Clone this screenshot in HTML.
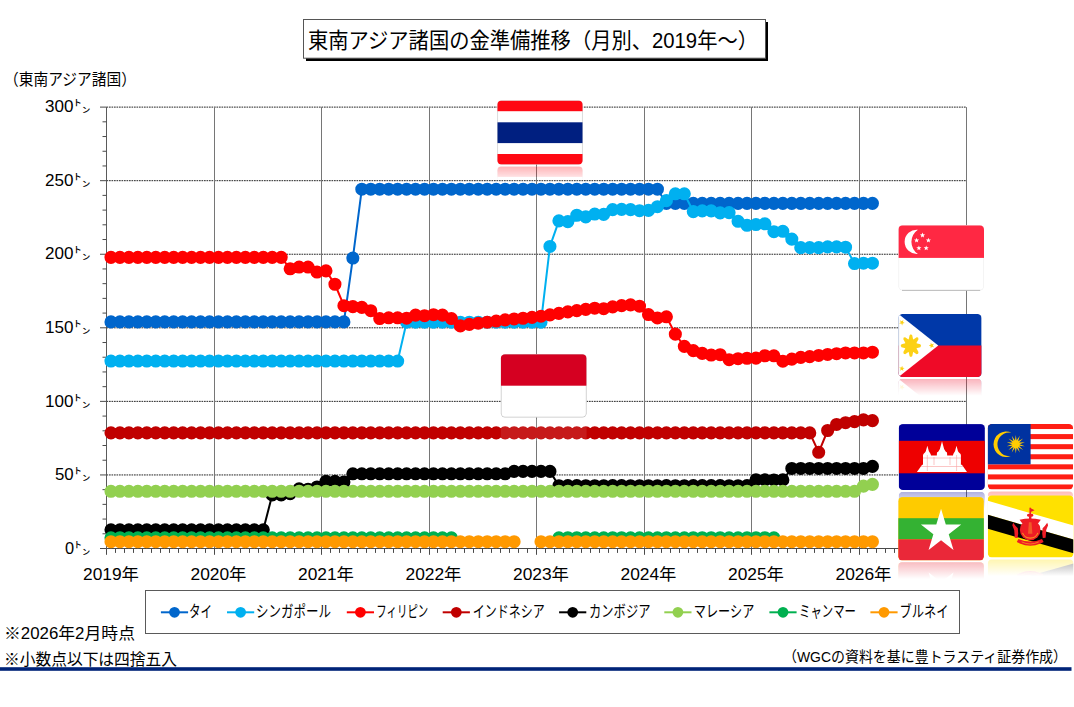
<!DOCTYPE html>
<html lang="ja"><head><meta charset="utf-8"><title>東南アジア諸国の金準備推移（月別、2019年～）</title>
<style>
html,body{margin:0;padding:0;background:#fff;}
body{width:1074px;height:707px;overflow:hidden;position:relative;font-family:"Liberation Sans","Noto Sans CJK JP",sans-serif;}
svg{display:block;position:absolute;left:0;top:0;}
svg text{font-family:"Liberation Sans","Noto Sans CJK JP",sans-serif;fill:#000;}
</style></head><body>
<svg width="1074" height="707" viewBox="0 0 1074 707" role="img" aria-label="東南アジア諸国の金準備推移（月別、2019年～）">
<rect width="1074" height="707" fill="#fff"/>
<defs>
<linearGradient id="rfade" x1="0" y1="0" x2="0" y2="1"><stop offset="0" stop-color="#fff" stop-opacity="0.31"/><stop offset="1" stop-color="#fff" stop-opacity="0"/></linearGradient>
<clipPath id="c_th"><rect width="85.4" height="64" rx="4.2" ry="4.2"/></clipPath>
<g id="f_th" clip-path="url(#c_th)"><rect width="85.4" height="64" rx="4.2" ry="4.2" fill="#fff" stroke="#cfcfcf" stroke-width="1.5"/><rect x="0" y="0" width="85.4" height="10.6" fill="#FF0813"/><rect x="0" y="53.4" width="85.4" height="10.6" fill="#FF0813"/><rect x="0" y="21.7" width="85.4" height="20.8" fill="#001F80"/></g>
<mask id="m_th" maskUnits="userSpaceOnUse" x="496.3" y="166.3" width="87.4" height="17"><rect x="496.3" y="166.3" width="87.4" height="17" fill="url(#rfade)"/></mask>
<clipPath id="c_sg"><rect width="85.6" height="65.1" rx="4.2" ry="4.2"/></clipPath>
<g id="f_sg" clip-path="url(#c_sg)"><rect width="85.6" height="65.1" rx="4.2" ry="4.2" fill="#fff" stroke="#f1f1f1" stroke-width="1.5"/><rect width="85.6" height="32.6" fill="#FF2843"/><path fill="#fff" d="M19.5 4.42A12.18 12.18 0 1 0 19.5 28.68A14.57 14.57 0 0 1 19.5 4.42z"/><g fill="#fff"><polygon points="24.1,7.3 24.78,9.07 26.67,9.17 25.19,10.36 25.69,12.18 24.1,11.15 22.51,12.18 23.01,10.36 21.53,9.17 23.42,9.07"/><polygon points="18.2,12.4 18.88,14.17 20.77,14.27 19.29,15.46 19.79,17.28 18.2,16.25 16.61,17.28 17.11,15.46 15.63,14.27 17.52,14.17"/><polygon points="30,12.4 30.68,14.17 32.57,14.27 31.09,15.46 31.59,17.28 30,16.25 28.41,17.28 28.91,15.46 27.43,14.27 29.32,14.17"/><polygon points="20.5,20.1 21.18,21.87 23.07,21.97 21.59,23.16 22.09,24.98 20.5,23.95 18.91,24.98 19.41,23.16 17.93,21.97 19.82,21.87"/><polygon points="27.8,20.1 28.48,21.87 30.37,21.97 28.89,23.16 29.39,24.98 27.8,23.95 26.21,24.98 26.71,23.16 25.23,21.97 27.12,21.87"/></g></g>
<mask id="m_sg" maskUnits="userSpaceOnUse" x="897.4" y="292.1" width="87.6" height="17"><rect x="897.4" y="292.1" width="87.6" height="17" fill="url(#rfade)"/></mask>
<clipPath id="c_ph"><rect width="83.2" height="63.2" rx="4.2" ry="4.2"/></clipPath>
<g id="f_ph" clip-path="url(#c_ph)"><rect width="83.2" height="63.2" fill="#0038A8"/><rect y="31.6" width="83.2" height="31.6" fill="#EF0A27"/><polygon points="0,0 39.85,31.6 0,63.2" fill="#fff"/><line x1="0.3" x2="0.3" y1="5" y2="58.2" stroke="#d4d4d4" stroke-width="0.7"/><g fill="#FCD116"><g transform="translate(0 31.8) scale(1 1.12) translate(0 -31.8)"><circle cx="12.5" cy="31.8" r="6.0"/><polygon points="17,34.3 21.9,33.1 22.7,31.8 21.9,30.5 17,29.3"/><polygon points="13.91,36.75 18.23,39.37 19.71,39.01 20.07,37.53 17.45,33.21"/><polygon points="10,36.3 11.2,41.2 12.5,42 13.8,41.2 15,36.3"/><polygon points="7.55,33.21 4.93,37.53 5.29,39.01 6.77,39.37 11.09,36.75"/><polygon points="8,29.3 3.1,30.5 2.3,31.8 3.1,33.1 8,34.3"/><polygon points="11.09,26.85 6.77,24.23 5.29,24.59 4.93,26.07 7.55,30.39"/><polygon points="15,27.3 13.8,22.4 12.5,21.6 11.2,22.4 10,27.3"/><polygon points="17.45,30.39 20.07,26.07 19.71,24.59 18.23,24.23 13.91,26.85"/></g><polygon points="4.95,6.09 4.6,8.11 6.34,9.2 4.3,9.49 3.8,11.48 2.9,9.64 0.85,9.78 2.33,8.35 1.56,6.44 3.37,7.41"/><polygon points="4.95,57.21 3.37,55.89 1.56,56.86 2.33,54.95 0.85,53.52 2.9,53.66 3.8,51.82 4.3,53.81 6.34,54.1 4.6,55.19"/><polygon points="30.3,31.6 32.23,30.89 32.3,28.84 33.57,30.46 35.55,29.9 34.4,31.6 35.55,33.3 33.57,32.74 32.3,34.36 32.23,32.31"/></g></g>
<mask id="m_ph" maskUnits="userSpaceOnUse" x="897.4" y="378.8" width="85.2" height="17"><rect x="897.4" y="378.8" width="85.2" height="17" fill="url(#rfade)"/></mask>
<clipPath id="c_id"><rect width="85.8" height="63.3" rx="4.2" ry="4.2"/></clipPath>
<g id="f_id" clip-path="url(#c_id)"><rect width="85.8" height="63.3" rx="4.2" ry="4.2" fill="#fff" stroke="#c4c4c4" stroke-width="1.5"/><rect width="85.8" height="31.5" fill="#D50021"/></g>
<mask id="m_id" maskUnits="userSpaceOnUse" x="499.8" y="419.2" width="87.8" height="17"><rect x="499.8" y="419.2" width="87.8" height="17" fill="url(#rfade)"/></mask>
<clipPath id="c_kh"><rect width="86.2" height="66" rx="4.2" ry="4.2"/></clipPath>
<g id="f_kh" clip-path="url(#c_kh)"><rect width="86.2" height="66" fill="#000099"/><rect y="16.7" width="86.2" height="32.5" fill="#EE0000"/><polygon fill="#fff" points="18.2,47.9 23.4,40.6 24.3,40.6 24.3,31.5 24.7,29.9 26.3,28.5 27.1,27.1 28.65,21.7 30.2,27.1 31,28.5 31.9,29.9 32.3,31.5 38.1,31.5 38.3,28.3 39.7,27.3 41.2,24.9 43.3,17.1 45.4,24.9 46.9,27.3 48.3,28.3 48.5,31.5 54.3,31.5 54.6,29.9 55.5,28.5 56.3,27.1 57.8,21.7 59.3,27.1 60.2,28.5 61.9,29.9 62.2,31.5 62.2,40.6 63.2,40.6 68.3,47.9"/><path stroke="#F8A0A0" stroke-width="0.6" fill="none" d="M24.3 33.9h38 M22.3 42.4h42 M35.3 32.9v8 M51.3 32.9v8 M28.6 30.9v16 M57.9 30.9v16"/></g>
<mask id="m_kh" maskUnits="userSpaceOnUse" x="897.7" y="491.8" width="88.2" height="17"><rect x="897.7" y="491.8" width="88.2" height="17" fill="url(#rfade)"/></mask>
<clipPath id="c_my"><rect width="85.4" height="65.5" rx="4.2" ry="4.2"/></clipPath>
<g id="f_my" clip-path="url(#c_my)"><rect width="85.4" height="65.5" fill="#FF1E14"/><rect y="5.04" width="85.4" height="5.04" fill="#fff"/><rect y="15.12" width="85.4" height="5.04" fill="#fff"/><rect y="25.19" width="85.4" height="5.04" fill="#fff"/><rect y="35.27" width="85.4" height="5.04" fill="#fff"/><rect y="45.35" width="85.4" height="5.04" fill="#fff"/><rect y="55.42" width="85.4" height="5.04" fill="#fff"/><rect width="42.9" height="40.31" fill="#0032A0"/><path fill="#FFCC00" d="M23.8 8.6A12.8 12.8 0 1 0 23.8 32A11.9 11.9 0 1 1 23.8 8.6z"/><polygon fill="#FFCC00" points="28.1,10.9 28.92,16.59 32.14,11.82 30.41,17.31 35.37,14.4 31.43,18.59 37.17,18.13 31.8,20.2 37.17,22.27 31.43,21.81 35.37,26 30.41,23.09 32.14,28.58 28.92,23.81 28.1,29.5 27.28,23.81 24.06,28.58 25.79,23.09 20.83,26 24.77,21.81 19.03,22.27 24.4,20.2 19.03,18.13 24.77,18.59 20.83,14.4 25.79,17.31 24.06,11.82 27.28,16.59"/></g>
<mask id="m_my" maskUnits="userSpaceOnUse" x="986.7" y="491.2" width="87.4" height="17"><rect x="986.7" y="491.2" width="87.4" height="17" fill="url(#rfade)"/></mask>
<clipPath id="c_mm"><rect width="85.7" height="63.3" rx="4.2" ry="4.2"/></clipPath>
<g id="f_mm" clip-path="url(#c_mm)"><rect width="85.7" height="63.3" fill="#FECB00"/><rect y="21.1" width="85.7" height="21.1" fill="#34B233"/><rect y="42.2" width="85.7" height="21.1" fill="#EA2839"/><polygon fill="#fff" transform="translate(42.85 34.4) scale(0.93 1)" points="0,-22.8 5.11,-7.04 21.68,-7.05 8.27,2.69 13.4,18.45 0,8.7 -13.4,18.45 -8.27,2.69 -21.68,-7.05 -5.11,-7.04"/></g>
<mask id="m_mm" maskUnits="userSpaceOnUse" x="897.2" y="562.1" width="87.7" height="17"><rect x="897.2" y="562.1" width="87.7" height="17" fill="url(#rfade)"/></mask>
<clipPath id="c_bn"><rect width="85.7" height="62.15" rx="4.2" ry="4.2"/></clipPath>
<g id="f_bn" clip-path="url(#c_bn)"><rect width="85.7" height="62.15" fill="#FFE100"/><polygon fill="#fff" points="0,5.45 85.7,30.05 85.7,44.05 0,19.45"/><polygon fill="#000" points="0,19.45 85.7,44.05 85.7,57.95 0,33.45"/><g fill="#EE1C25"><rect x="41.65" y="12.35" width="1.5" height="8"/><path d="M43 12.95l3.8 2.0l-3.8 1.8z"/><ellipse cx="42.4" cy="19.95" rx="3.2" ry="1.7"/><rect x="41.2" y="20.95" width="2.4" height="3"/><path d="M31.8 24.35q10.6 -2.6 21.2 0l-2.4 3.2h-16.4z"/><circle cx="42.4" cy="34.55" r="10.3"/><polygon points="29.8,42.55 27,42.35 26.4,34.65 24.5,29.95 25.4,27.35 27.8,30.55 30,32.95 30.4,38.15"/><polygon points="55,42.55 57.8,42.35 58.4,34.65 60.3,29.95 59.4,27.35 57,30.55 54.8,32.95 54.4,38.15"/><path d="M30.6 43.75Q42.4 48.75 54.2 43.75L55.8 46.75L52.8 48.15Q42.4 52.75 32 48.15L29 46.75z"/></g><g fill="none" stroke="#F7931E" stroke-width="1.1"><path d="M34.7 37.55a8.3 8.3 0 0 0 15.4 0"/></g><path fill="#F15A29" d="M41.1 26.95h2.6l0.9 11.4h-4.4z"/><path fill="none" stroke="#F7931E" stroke-width="0.8" d="M33.8 46.55Q42.4 50.75 51 46.55"/></g>
<mask id="m_bn" maskUnits="userSpaceOnUse" x="986.8" y="559.2" width="87.7" height="17"><rect x="986.8" y="559.2" width="87.7" height="17" fill="url(#rfade)"/></mask>
</defs>
<g id="title">
<rect x="306" y="22" width="462" height="39" fill="#000"/>
<rect x="303.5" y="19.5" width="462" height="38.7" fill="#fff" stroke="#555" stroke-width="1"/>
<text x="308" y="48.3" font-size="21.3" textLength="450" lengthAdjust="spacingAndGlyphs">東南アジア諸国の金準備推移（月別、2019年～）</text>
</g>
<text x="4" y="85" font-size="16" textLength="132" lengthAdjust="spacingAndGlyphs">（東南アジア諸国）</text>
<g id="grid" fill="none">
<line x1="106.5" x2="966.5" y1="474.94" y2="474.94" stroke="#262626" stroke-width="1" stroke-dasharray="1.7 0.8"/>
<line x1="106.5" x2="966.5" y1="401.37" y2="401.37" stroke="#262626" stroke-width="1" stroke-dasharray="1.7 0.8"/>
<line x1="106.5" x2="966.5" y1="327.8" y2="327.8" stroke="#262626" stroke-width="1" stroke-dasharray="1.7 0.8"/>
<line x1="106.5" x2="966.5" y1="254.24" y2="254.24" stroke="#262626" stroke-width="1" stroke-dasharray="1.7 0.8"/>
<line x1="106.5" x2="966.5" y1="180.68" y2="180.68" stroke="#262626" stroke-width="1" stroke-dasharray="1.7 0.8"/>
<line x1="106.5" x2="966.5" y1="107.11" y2="107.11" stroke="#262626" stroke-width="1" stroke-dasharray="1.7 0.8"/>
<line x1="214.5" x2="214.5" y1="107.11" y2="548.5" stroke="#767676" stroke-width="1"/>
<line x1="321.5" x2="321.5" y1="107.11" y2="548.5" stroke="#767676" stroke-width="1"/>
<line x1="429.5" x2="429.5" y1="107.11" y2="548.5" stroke="#767676" stroke-width="1"/>
<line x1="536.5" x2="536.5" y1="107.11" y2="548.5" stroke="#767676" stroke-width="1"/>
<line x1="644.5" x2="644.5" y1="107.11" y2="548.5" stroke="#767676" stroke-width="1"/>
<line x1="751.5" x2="751.5" y1="107.11" y2="548.5" stroke="#767676" stroke-width="1"/>
<line x1="859.5" x2="859.5" y1="107.11" y2="548.5" stroke="#767676" stroke-width="1"/>
<line x1="966.5" x2="966.5" y1="107.11" y2="548.5" stroke="#767676" stroke-width="1"/>
<line x1="106.5" x2="106.5" y1="107.11" y2="548.5" stroke="#5a5a5a" stroke-width="1"/>
<line x1="106.5" x2="966.5" y1="548.5" y2="548.5" stroke="#4a4a4a" stroke-width="1"/>
<path d="M100 548.5h6.5 M102.5 533.79h4 M102.5 519.07h4 M102.5 504.36h4 M102.5 489.65h4 M100 474.94h6.5 M102.5 460.22h4 M102.5 445.51h4 M102.5 430.8h4 M102.5 416.08h4 M100 401.37h6.5 M102.5 386.66h4 M102.5 371.94h4 M102.5 357.23h4 M102.5 342.52h4 M100 327.8h6.5 M102.5 313.09h4 M102.5 298.38h4 M102.5 283.67h4 M102.5 268.95h4 M100 254.24h6.5 M102.5 239.53h4 M102.5 224.81h4 M102.5 210.1h4 M102.5 195.39h4 M100 180.68h6.5 M102.5 165.96h4 M102.5 151.25h4 M102.5 136.54h4 M102.5 121.82h4 M100 107.11h6.5" stroke="#4a4a4a" stroke-width="1"/>
<path d="M106.5 548.5v6.3 M115.5 548.5v4.4 M124.5 548.5v4.4 M133.5 548.5v4.4 M142.5 548.5v4.4 M151.5 548.5v4.4 M160.5 548.5v4.4 M169.5 548.5v4.4 M178.5 548.5v4.4 M187.5 548.5v4.4 M196.5 548.5v4.4 M205.5 548.5v4.4 M214.5 548.5v6.3 M222.5 548.5v4.4 M231.5 548.5v4.4 M240.5 548.5v4.4 M249.5 548.5v4.4 M258.5 548.5v4.4 M267.5 548.5v4.4 M276.5 548.5v4.4 M285.5 548.5v4.4 M294.5 548.5v4.4 M303.5 548.5v4.4 M312.5 548.5v4.4 M321.5 548.5v6.3 M330.5 548.5v4.4 M339.5 548.5v4.4 M348.5 548.5v4.4 M357.5 548.5v4.4 M366.5 548.5v4.4 M375.5 548.5v4.4 M384.5 548.5v4.4 M393.5 548.5v4.4 M402.5 548.5v4.4 M411.5 548.5v4.4 M420.5 548.5v4.4 M429.5 548.5v6.3 M437.5 548.5v4.4 M446.5 548.5v4.4 M455.5 548.5v4.4 M464.5 548.5v4.4 M473.5 548.5v4.4 M482.5 548.5v4.4 M491.5 548.5v4.4 M500.5 548.5v4.4 M509.5 548.5v4.4 M518.5 548.5v4.4 M527.5 548.5v4.4 M536.5 548.5v6.3 M545.5 548.5v4.4 M554.5 548.5v4.4 M563.5 548.5v4.4 M572.5 548.5v4.4 M581.5 548.5v4.4 M590.5 548.5v4.4 M599.5 548.5v4.4 M608.5 548.5v4.4 M617.5 548.5v4.4 M626.5 548.5v4.4 M635.5 548.5v4.4 M644.5 548.5v6.3 M652.5 548.5v4.4 M661.5 548.5v4.4 M670.5 548.5v4.4 M679.5 548.5v4.4 M688.5 548.5v4.4 M697.5 548.5v4.4 M706.5 548.5v4.4 M715.5 548.5v4.4 M724.5 548.5v4.4 M733.5 548.5v4.4 M742.5 548.5v4.4 M751.5 548.5v6.3 M760.5 548.5v4.4 M769.5 548.5v4.4 M778.5 548.5v4.4 M787.5 548.5v4.4 M796.5 548.5v4.4 M805.5 548.5v4.4 M814.5 548.5v4.4 M823.5 548.5v4.4 M832.5 548.5v4.4 M841.5 548.5v4.4 M850.5 548.5v4.4 M859.5 548.5v6.3 M867.5 548.5v4.4 M876.5 548.5v4.4 M885.5 548.5v4.4 M894.5 548.5v4.4 M903.5 548.5v4.4 M912.5 548.5v4.4 M921.5 548.5v4.4 M930.5 548.5v4.4 M939.5 548.5v4.4 M948.5 548.5v4.4 M957.5 548.5v4.4 M966.5 548.5v6.3" stroke="#4a4a4a" stroke-width="1"/>
</g>
<g id="series">
<g aria-label="タイ">
<path d="M110.98 321.92 L119.94 321.92 L128.9 321.92 L137.85 321.92 L146.81 321.92 L155.77 321.92 L164.73 321.92 L173.69 321.92 L182.65 321.92 L191.6 321.92 L200.56 321.92 L209.52 321.92 L218.48 321.92 L227.44 321.92 L236.4 321.92 L245.35 321.92 L254.31 321.92 L263.27 321.92 L272.23 321.92 L281.19 321.92 L290.15 321.92 L299.1 321.92 L308.06 321.92 L317.02 321.92 L325.98 321.92 L334.94 321.92 L343.9 321.92 L352.85 258.07 L361.81 189.21 L370.77 189.21 L379.73 189.21 L388.69 189.21 L397.65 189.21 L406.6 189.21 L415.56 189.21 L424.52 189.21 L433.48 189.21 L442.44 189.21 L451.4 189.21 L460.35 189.21 L469.31 189.21 L478.27 189.21 L487.23 189.21 L496.19 189.21 L505.15 189.21 L514.1 189.21 L523.06 189.21 L532.02 189.21 L540.98 189.21 L549.94 189.21 L558.9 189.21 L567.85 189.21 L576.81 189.21 L585.77 189.21 L594.73 189.21 L603.69 189.21 L612.65 189.21 L621.6 189.21 L630.56 189.21 L639.52 189.21 L648.48 189.21 L657.44 189.21 L666.4 203.33 L675.35 203.33 L684.31 203.33 L693.27 203.33 L702.23 203.33 L711.19 203.33 L720.15 203.33 L729.1 203.33 L738.06 203.33 L747.02 203.33 L755.98 203.33 L764.94 203.33 L773.9 203.33 L782.85 203.33 L791.81 203.33 L800.77 203.33 L809.73 203.33 L818.69 203.33 L827.65 203.33 L836.6 203.33 L845.56 203.33 L854.52 203.33 L863.48 203.33 L872.44 203.33" fill="none" stroke="#0066CC" stroke-width="2" stroke-linejoin="round"/>
<path d="M104.43 321.92a6.55 6.55 0 1 0 13.1 0a6.55 6.55 0 1 0 -13.1 0zM113.39 321.92a6.55 6.55 0 1 0 13.1 0a6.55 6.55 0 1 0 -13.1 0zM122.35 321.92a6.55 6.55 0 1 0 13.1 0a6.55 6.55 0 1 0 -13.1 0zM131.3 321.92a6.55 6.55 0 1 0 13.1 0a6.55 6.55 0 1 0 -13.1 0zM140.26 321.92a6.55 6.55 0 1 0 13.1 0a6.55 6.55 0 1 0 -13.1 0zM149.22 321.92a6.55 6.55 0 1 0 13.1 0a6.55 6.55 0 1 0 -13.1 0zM158.18 321.92a6.55 6.55 0 1 0 13.1 0a6.55 6.55 0 1 0 -13.1 0zM167.14 321.92a6.55 6.55 0 1 0 13.1 0a6.55 6.55 0 1 0 -13.1 0zM176.1 321.92a6.55 6.55 0 1 0 13.1 0a6.55 6.55 0 1 0 -13.1 0zM185.05 321.92a6.55 6.55 0 1 0 13.1 0a6.55 6.55 0 1 0 -13.1 0zM194.01 321.92a6.55 6.55 0 1 0 13.1 0a6.55 6.55 0 1 0 -13.1 0zM202.97 321.92a6.55 6.55 0 1 0 13.1 0a6.55 6.55 0 1 0 -13.1 0zM211.93 321.92a6.55 6.55 0 1 0 13.1 0a6.55 6.55 0 1 0 -13.1 0zM220.89 321.92a6.55 6.55 0 1 0 13.1 0a6.55 6.55 0 1 0 -13.1 0zM229.85 321.92a6.55 6.55 0 1 0 13.1 0a6.55 6.55 0 1 0 -13.1 0zM238.8 321.92a6.55 6.55 0 1 0 13.1 0a6.55 6.55 0 1 0 -13.1 0zM247.76 321.92a6.55 6.55 0 1 0 13.1 0a6.55 6.55 0 1 0 -13.1 0zM256.72 321.92a6.55 6.55 0 1 0 13.1 0a6.55 6.55 0 1 0 -13.1 0zM265.68 321.92a6.55 6.55 0 1 0 13.1 0a6.55 6.55 0 1 0 -13.1 0zM274.64 321.92a6.55 6.55 0 1 0 13.1 0a6.55 6.55 0 1 0 -13.1 0zM283.6 321.92a6.55 6.55 0 1 0 13.1 0a6.55 6.55 0 1 0 -13.1 0zM292.55 321.92a6.55 6.55 0 1 0 13.1 0a6.55 6.55 0 1 0 -13.1 0zM301.51 321.92a6.55 6.55 0 1 0 13.1 0a6.55 6.55 0 1 0 -13.1 0zM310.47 321.92a6.55 6.55 0 1 0 13.1 0a6.55 6.55 0 1 0 -13.1 0zM319.43 321.92a6.55 6.55 0 1 0 13.1 0a6.55 6.55 0 1 0 -13.1 0zM328.39 321.92a6.55 6.55 0 1 0 13.1 0a6.55 6.55 0 1 0 -13.1 0zM337.35 321.92a6.55 6.55 0 1 0 13.1 0a6.55 6.55 0 1 0 -13.1 0zM346.3 258.07a6.55 6.55 0 1 0 13.1 0a6.55 6.55 0 1 0 -13.1 0zM355.26 189.21a6.55 6.55 0 1 0 13.1 0a6.55 6.55 0 1 0 -13.1 0zM364.22 189.21a6.55 6.55 0 1 0 13.1 0a6.55 6.55 0 1 0 -13.1 0zM373.18 189.21a6.55 6.55 0 1 0 13.1 0a6.55 6.55 0 1 0 -13.1 0zM382.14 189.21a6.55 6.55 0 1 0 13.1 0a6.55 6.55 0 1 0 -13.1 0zM391.1 189.21a6.55 6.55 0 1 0 13.1 0a6.55 6.55 0 1 0 -13.1 0zM400.05 189.21a6.55 6.55 0 1 0 13.1 0a6.55 6.55 0 1 0 -13.1 0zM409.01 189.21a6.55 6.55 0 1 0 13.1 0a6.55 6.55 0 1 0 -13.1 0zM417.97 189.21a6.55 6.55 0 1 0 13.1 0a6.55 6.55 0 1 0 -13.1 0zM426.93 189.21a6.55 6.55 0 1 0 13.1 0a6.55 6.55 0 1 0 -13.1 0zM435.89 189.21a6.55 6.55 0 1 0 13.1 0a6.55 6.55 0 1 0 -13.1 0zM444.85 189.21a6.55 6.55 0 1 0 13.1 0a6.55 6.55 0 1 0 -13.1 0zM453.8 189.21a6.55 6.55 0 1 0 13.1 0a6.55 6.55 0 1 0 -13.1 0zM462.76 189.21a6.55 6.55 0 1 0 13.1 0a6.55 6.55 0 1 0 -13.1 0zM471.72 189.21a6.55 6.55 0 1 0 13.1 0a6.55 6.55 0 1 0 -13.1 0zM480.68 189.21a6.55 6.55 0 1 0 13.1 0a6.55 6.55 0 1 0 -13.1 0zM489.64 189.21a6.55 6.55 0 1 0 13.1 0a6.55 6.55 0 1 0 -13.1 0zM498.6 189.21a6.55 6.55 0 1 0 13.1 0a6.55 6.55 0 1 0 -13.1 0zM507.55 189.21a6.55 6.55 0 1 0 13.1 0a6.55 6.55 0 1 0 -13.1 0zM516.51 189.21a6.55 6.55 0 1 0 13.1 0a6.55 6.55 0 1 0 -13.1 0zM525.47 189.21a6.55 6.55 0 1 0 13.1 0a6.55 6.55 0 1 0 -13.1 0zM534.43 189.21a6.55 6.55 0 1 0 13.1 0a6.55 6.55 0 1 0 -13.1 0zM543.39 189.21a6.55 6.55 0 1 0 13.1 0a6.55 6.55 0 1 0 -13.1 0zM552.35 189.21a6.55 6.55 0 1 0 13.1 0a6.55 6.55 0 1 0 -13.1 0zM561.3 189.21a6.55 6.55 0 1 0 13.1 0a6.55 6.55 0 1 0 -13.1 0zM570.26 189.21a6.55 6.55 0 1 0 13.1 0a6.55 6.55 0 1 0 -13.1 0zM579.22 189.21a6.55 6.55 0 1 0 13.1 0a6.55 6.55 0 1 0 -13.1 0zM588.18 189.21a6.55 6.55 0 1 0 13.1 0a6.55 6.55 0 1 0 -13.1 0zM597.14 189.21a6.55 6.55 0 1 0 13.1 0a6.55 6.55 0 1 0 -13.1 0zM606.1 189.21a6.55 6.55 0 1 0 13.1 0a6.55 6.55 0 1 0 -13.1 0zM615.05 189.21a6.55 6.55 0 1 0 13.1 0a6.55 6.55 0 1 0 -13.1 0zM624.01 189.21a6.55 6.55 0 1 0 13.1 0a6.55 6.55 0 1 0 -13.1 0zM632.97 189.21a6.55 6.55 0 1 0 13.1 0a6.55 6.55 0 1 0 -13.1 0zM641.93 189.21a6.55 6.55 0 1 0 13.1 0a6.55 6.55 0 1 0 -13.1 0zM650.89 189.21a6.55 6.55 0 1 0 13.1 0a6.55 6.55 0 1 0 -13.1 0zM659.85 203.33a6.55 6.55 0 1 0 13.1 0a6.55 6.55 0 1 0 -13.1 0zM668.8 203.33a6.55 6.55 0 1 0 13.1 0a6.55 6.55 0 1 0 -13.1 0zM677.76 203.33a6.55 6.55 0 1 0 13.1 0a6.55 6.55 0 1 0 -13.1 0zM686.72 203.33a6.55 6.55 0 1 0 13.1 0a6.55 6.55 0 1 0 -13.1 0zM695.68 203.33a6.55 6.55 0 1 0 13.1 0a6.55 6.55 0 1 0 -13.1 0zM704.64 203.33a6.55 6.55 0 1 0 13.1 0a6.55 6.55 0 1 0 -13.1 0zM713.6 203.33a6.55 6.55 0 1 0 13.1 0a6.55 6.55 0 1 0 -13.1 0zM722.55 203.33a6.55 6.55 0 1 0 13.1 0a6.55 6.55 0 1 0 -13.1 0zM731.51 203.33a6.55 6.55 0 1 0 13.1 0a6.55 6.55 0 1 0 -13.1 0zM740.47 203.33a6.55 6.55 0 1 0 13.1 0a6.55 6.55 0 1 0 -13.1 0zM749.43 203.33a6.55 6.55 0 1 0 13.1 0a6.55 6.55 0 1 0 -13.1 0zM758.39 203.33a6.55 6.55 0 1 0 13.1 0a6.55 6.55 0 1 0 -13.1 0zM767.35 203.33a6.55 6.55 0 1 0 13.1 0a6.55 6.55 0 1 0 -13.1 0zM776.3 203.33a6.55 6.55 0 1 0 13.1 0a6.55 6.55 0 1 0 -13.1 0zM785.26 203.33a6.55 6.55 0 1 0 13.1 0a6.55 6.55 0 1 0 -13.1 0zM794.22 203.33a6.55 6.55 0 1 0 13.1 0a6.55 6.55 0 1 0 -13.1 0zM803.18 203.33a6.55 6.55 0 1 0 13.1 0a6.55 6.55 0 1 0 -13.1 0zM812.14 203.33a6.55 6.55 0 1 0 13.1 0a6.55 6.55 0 1 0 -13.1 0zM821.1 203.33a6.55 6.55 0 1 0 13.1 0a6.55 6.55 0 1 0 -13.1 0zM830.05 203.33a6.55 6.55 0 1 0 13.1 0a6.55 6.55 0 1 0 -13.1 0zM839.01 203.33a6.55 6.55 0 1 0 13.1 0a6.55 6.55 0 1 0 -13.1 0zM847.97 203.33a6.55 6.55 0 1 0 13.1 0a6.55 6.55 0 1 0 -13.1 0zM856.93 203.33a6.55 6.55 0 1 0 13.1 0a6.55 6.55 0 1 0 -13.1 0zM865.89 203.33a6.55 6.55 0 1 0 13.1 0a6.55 6.55 0 1 0 -13.1 0z" fill="#0066CC"/>
</g>
<g aria-label="シンガポール">
<path d="M110.98 361.06 L119.94 361.06 L128.9 361.06 L137.85 361.06 L146.81 361.06 L155.77 361.06 L164.73 361.06 L173.69 361.06 L182.65 361.06 L191.6 361.06 L200.56 361.06 L209.52 361.06 L218.48 361.06 L227.44 361.06 L236.4 361.06 L245.35 361.06 L254.31 361.06 L263.27 361.06 L272.23 361.06 L281.19 361.06 L290.15 361.06 L299.1 361.06 L308.06 361.06 L317.02 361.06 L325.98 361.06 L334.94 361.06 L343.9 361.06 L352.85 361.06 L361.81 361.06 L370.77 361.06 L379.73 361.06 L388.69 361.06 L397.65 361.06 L406.6 322.21 L415.56 322.21 L424.52 322.21 L433.48 322.21 L442.44 322.21 L451.4 322.21 L460.35 322.21 L469.31 322.21 L478.27 322.21 L487.23 322.21 L496.19 322.21 L505.15 322.21 L514.1 322.21 L523.06 322.21 L532.02 322.21 L540.98 322.21 L549.94 246.44 L558.9 220.84 L567.85 221.58 L576.81 215.25 L585.77 216.87 L594.73 214.07 L603.69 214.37 L612.65 209.66 L621.6 209.37 L630.56 209.66 L639.52 210.69 L648.48 210.4 L657.44 206.72 L666.4 200.68 L675.35 193.77 L684.31 193.77 L693.27 211.57 L702.23 210.84 L711.19 210.84 L720.15 212.9 L729.1 212.6 L738.06 221.28 L747.02 225.26 L755.98 224.52 L764.94 223.78 L773.9 231.73 L782.85 231.29 L791.81 239.09 L800.77 247.62 L809.73 247.62 L818.69 247.62 L827.65 246.88 L836.6 246.88 L845.56 247.18 L854.52 263.51 L863.48 263.21 L872.44 263.21" fill="none" stroke="#00B0F0" stroke-width="2" stroke-linejoin="round"/>
<path d="M104.43 361.06a6.55 6.55 0 1 0 13.1 0a6.55 6.55 0 1 0 -13.1 0zM113.39 361.06a6.55 6.55 0 1 0 13.1 0a6.55 6.55 0 1 0 -13.1 0zM122.35 361.06a6.55 6.55 0 1 0 13.1 0a6.55 6.55 0 1 0 -13.1 0zM131.3 361.06a6.55 6.55 0 1 0 13.1 0a6.55 6.55 0 1 0 -13.1 0zM140.26 361.06a6.55 6.55 0 1 0 13.1 0a6.55 6.55 0 1 0 -13.1 0zM149.22 361.06a6.55 6.55 0 1 0 13.1 0a6.55 6.55 0 1 0 -13.1 0zM158.18 361.06a6.55 6.55 0 1 0 13.1 0a6.55 6.55 0 1 0 -13.1 0zM167.14 361.06a6.55 6.55 0 1 0 13.1 0a6.55 6.55 0 1 0 -13.1 0zM176.1 361.06a6.55 6.55 0 1 0 13.1 0a6.55 6.55 0 1 0 -13.1 0zM185.05 361.06a6.55 6.55 0 1 0 13.1 0a6.55 6.55 0 1 0 -13.1 0zM194.01 361.06a6.55 6.55 0 1 0 13.1 0a6.55 6.55 0 1 0 -13.1 0zM202.97 361.06a6.55 6.55 0 1 0 13.1 0a6.55 6.55 0 1 0 -13.1 0zM211.93 361.06a6.55 6.55 0 1 0 13.1 0a6.55 6.55 0 1 0 -13.1 0zM220.89 361.06a6.55 6.55 0 1 0 13.1 0a6.55 6.55 0 1 0 -13.1 0zM229.85 361.06a6.55 6.55 0 1 0 13.1 0a6.55 6.55 0 1 0 -13.1 0zM238.8 361.06a6.55 6.55 0 1 0 13.1 0a6.55 6.55 0 1 0 -13.1 0zM247.76 361.06a6.55 6.55 0 1 0 13.1 0a6.55 6.55 0 1 0 -13.1 0zM256.72 361.06a6.55 6.55 0 1 0 13.1 0a6.55 6.55 0 1 0 -13.1 0zM265.68 361.06a6.55 6.55 0 1 0 13.1 0a6.55 6.55 0 1 0 -13.1 0zM274.64 361.06a6.55 6.55 0 1 0 13.1 0a6.55 6.55 0 1 0 -13.1 0zM283.6 361.06a6.55 6.55 0 1 0 13.1 0a6.55 6.55 0 1 0 -13.1 0zM292.55 361.06a6.55 6.55 0 1 0 13.1 0a6.55 6.55 0 1 0 -13.1 0zM301.51 361.06a6.55 6.55 0 1 0 13.1 0a6.55 6.55 0 1 0 -13.1 0zM310.47 361.06a6.55 6.55 0 1 0 13.1 0a6.55 6.55 0 1 0 -13.1 0zM319.43 361.06a6.55 6.55 0 1 0 13.1 0a6.55 6.55 0 1 0 -13.1 0zM328.39 361.06a6.55 6.55 0 1 0 13.1 0a6.55 6.55 0 1 0 -13.1 0zM337.35 361.06a6.55 6.55 0 1 0 13.1 0a6.55 6.55 0 1 0 -13.1 0zM346.3 361.06a6.55 6.55 0 1 0 13.1 0a6.55 6.55 0 1 0 -13.1 0zM355.26 361.06a6.55 6.55 0 1 0 13.1 0a6.55 6.55 0 1 0 -13.1 0zM364.22 361.06a6.55 6.55 0 1 0 13.1 0a6.55 6.55 0 1 0 -13.1 0zM373.18 361.06a6.55 6.55 0 1 0 13.1 0a6.55 6.55 0 1 0 -13.1 0zM382.14 361.06a6.55 6.55 0 1 0 13.1 0a6.55 6.55 0 1 0 -13.1 0zM391.1 361.06a6.55 6.55 0 1 0 13.1 0a6.55 6.55 0 1 0 -13.1 0zM400.05 322.21a6.55 6.55 0 1 0 13.1 0a6.55 6.55 0 1 0 -13.1 0zM409.01 322.21a6.55 6.55 0 1 0 13.1 0a6.55 6.55 0 1 0 -13.1 0zM417.97 322.21a6.55 6.55 0 1 0 13.1 0a6.55 6.55 0 1 0 -13.1 0zM426.93 322.21a6.55 6.55 0 1 0 13.1 0a6.55 6.55 0 1 0 -13.1 0zM435.89 322.21a6.55 6.55 0 1 0 13.1 0a6.55 6.55 0 1 0 -13.1 0zM444.85 322.21a6.55 6.55 0 1 0 13.1 0a6.55 6.55 0 1 0 -13.1 0zM453.8 322.21a6.55 6.55 0 1 0 13.1 0a6.55 6.55 0 1 0 -13.1 0zM462.76 322.21a6.55 6.55 0 1 0 13.1 0a6.55 6.55 0 1 0 -13.1 0zM471.72 322.21a6.55 6.55 0 1 0 13.1 0a6.55 6.55 0 1 0 -13.1 0zM480.68 322.21a6.55 6.55 0 1 0 13.1 0a6.55 6.55 0 1 0 -13.1 0zM489.64 322.21a6.55 6.55 0 1 0 13.1 0a6.55 6.55 0 1 0 -13.1 0zM498.6 322.21a6.55 6.55 0 1 0 13.1 0a6.55 6.55 0 1 0 -13.1 0zM507.55 322.21a6.55 6.55 0 1 0 13.1 0a6.55 6.55 0 1 0 -13.1 0zM516.51 322.21a6.55 6.55 0 1 0 13.1 0a6.55 6.55 0 1 0 -13.1 0zM525.47 322.21a6.55 6.55 0 1 0 13.1 0a6.55 6.55 0 1 0 -13.1 0zM534.43 322.21a6.55 6.55 0 1 0 13.1 0a6.55 6.55 0 1 0 -13.1 0zM543.39 246.44a6.55 6.55 0 1 0 13.1 0a6.55 6.55 0 1 0 -13.1 0zM552.35 220.84a6.55 6.55 0 1 0 13.1 0a6.55 6.55 0 1 0 -13.1 0zM561.3 221.58a6.55 6.55 0 1 0 13.1 0a6.55 6.55 0 1 0 -13.1 0zM570.26 215.25a6.55 6.55 0 1 0 13.1 0a6.55 6.55 0 1 0 -13.1 0zM579.22 216.87a6.55 6.55 0 1 0 13.1 0a6.55 6.55 0 1 0 -13.1 0zM588.18 214.07a6.55 6.55 0 1 0 13.1 0a6.55 6.55 0 1 0 -13.1 0zM597.14 214.37a6.55 6.55 0 1 0 13.1 0a6.55 6.55 0 1 0 -13.1 0zM606.1 209.66a6.55 6.55 0 1 0 13.1 0a6.55 6.55 0 1 0 -13.1 0zM615.05 209.37a6.55 6.55 0 1 0 13.1 0a6.55 6.55 0 1 0 -13.1 0zM624.01 209.66a6.55 6.55 0 1 0 13.1 0a6.55 6.55 0 1 0 -13.1 0zM632.97 210.69a6.55 6.55 0 1 0 13.1 0a6.55 6.55 0 1 0 -13.1 0zM641.93 210.4a6.55 6.55 0 1 0 13.1 0a6.55 6.55 0 1 0 -13.1 0zM650.89 206.72a6.55 6.55 0 1 0 13.1 0a6.55 6.55 0 1 0 -13.1 0zM659.85 200.68a6.55 6.55 0 1 0 13.1 0a6.55 6.55 0 1 0 -13.1 0zM668.8 193.77a6.55 6.55 0 1 0 13.1 0a6.55 6.55 0 1 0 -13.1 0zM677.76 193.77a6.55 6.55 0 1 0 13.1 0a6.55 6.55 0 1 0 -13.1 0zM686.72 211.57a6.55 6.55 0 1 0 13.1 0a6.55 6.55 0 1 0 -13.1 0zM695.68 210.84a6.55 6.55 0 1 0 13.1 0a6.55 6.55 0 1 0 -13.1 0zM704.64 210.84a6.55 6.55 0 1 0 13.1 0a6.55 6.55 0 1 0 -13.1 0zM713.6 212.9a6.55 6.55 0 1 0 13.1 0a6.55 6.55 0 1 0 -13.1 0zM722.55 212.6a6.55 6.55 0 1 0 13.1 0a6.55 6.55 0 1 0 -13.1 0zM731.51 221.28a6.55 6.55 0 1 0 13.1 0a6.55 6.55 0 1 0 -13.1 0zM740.47 225.26a6.55 6.55 0 1 0 13.1 0a6.55 6.55 0 1 0 -13.1 0zM749.43 224.52a6.55 6.55 0 1 0 13.1 0a6.55 6.55 0 1 0 -13.1 0zM758.39 223.78a6.55 6.55 0 1 0 13.1 0a6.55 6.55 0 1 0 -13.1 0zM767.35 231.73a6.55 6.55 0 1 0 13.1 0a6.55 6.55 0 1 0 -13.1 0zM776.3 231.29a6.55 6.55 0 1 0 13.1 0a6.55 6.55 0 1 0 -13.1 0zM785.26 239.09a6.55 6.55 0 1 0 13.1 0a6.55 6.55 0 1 0 -13.1 0zM794.22 247.62a6.55 6.55 0 1 0 13.1 0a6.55 6.55 0 1 0 -13.1 0zM803.18 247.62a6.55 6.55 0 1 0 13.1 0a6.55 6.55 0 1 0 -13.1 0zM812.14 247.62a6.55 6.55 0 1 0 13.1 0a6.55 6.55 0 1 0 -13.1 0zM821.1 246.88a6.55 6.55 0 1 0 13.1 0a6.55 6.55 0 1 0 -13.1 0zM830.05 246.88a6.55 6.55 0 1 0 13.1 0a6.55 6.55 0 1 0 -13.1 0zM839.01 247.18a6.55 6.55 0 1 0 13.1 0a6.55 6.55 0 1 0 -13.1 0zM847.97 263.51a6.55 6.55 0 1 0 13.1 0a6.55 6.55 0 1 0 -13.1 0zM856.93 263.21a6.55 6.55 0 1 0 13.1 0a6.55 6.55 0 1 0 -13.1 0zM865.89 263.21a6.55 6.55 0 1 0 13.1 0a6.55 6.55 0 1 0 -13.1 0z" fill="#00B0F0"/>
</g>
<g aria-label="フィリピン">
<path d="M110.98 257.33 L119.94 257.33 L128.9 257.33 L137.85 257.33 L146.81 257.33 L155.77 257.33 L164.73 257.33 L173.69 257.33 L182.65 257.33 L191.6 257.33 L200.56 257.33 L209.52 257.33 L218.48 257.33 L227.44 257.33 L236.4 257.33 L245.35 257.33 L254.31 257.33 L263.27 257.33 L272.23 257.33 L281.19 257.33 L290.15 268.81 L299.1 267.04 L308.06 267.04 L317.02 272.04 L325.98 270.87 L334.94 284.25 L343.9 305.74 L352.85 306.62 L361.81 307.35 L370.77 310.74 L379.73 318.54 L388.69 317.8 L397.65 317.8 L406.6 318.24 L415.56 315.15 L424.52 315.74 L433.48 314.71 L442.44 315.15 L451.4 318.54 L460.35 325.89 L469.31 324.42 L478.27 323.24 L487.23 322.21 L496.19 321.04 L505.15 319.86 L514.1 318.98 L523.06 318.24 L532.02 317.36 L540.98 316.18 L549.94 314.86 L558.9 313.39 L567.85 311.91 L576.81 310.59 L585.77 309.41 L594.73 308.24 L603.69 308.68 L612.65 306.91 L621.6 305.59 L630.56 304.85 L639.52 306.18 L648.48 314.56 L657.44 317.95 L666.4 316.77 L675.35 334.13 L684.31 346.34 L693.27 350.61 L702.23 353.41 L711.19 355.02 L720.15 354.73 L729.1 359.73 L738.06 358.7 L747.02 358.26 L755.98 358.11 L764.94 355.76 L773.9 355.76 L782.85 361.2 L791.81 359.14 L800.77 357.38 L809.73 356.64 L818.69 355.47 L827.65 354.44 L836.6 353.7 L845.56 352.96 L854.52 352.96 L863.48 352.96 L872.44 352.23" fill="none" stroke="#FF0000" stroke-width="2" stroke-linejoin="round"/>
<path d="M104.43 257.33a6.55 6.55 0 1 0 13.1 0a6.55 6.55 0 1 0 -13.1 0zM113.39 257.33a6.55 6.55 0 1 0 13.1 0a6.55 6.55 0 1 0 -13.1 0zM122.35 257.33a6.55 6.55 0 1 0 13.1 0a6.55 6.55 0 1 0 -13.1 0zM131.3 257.33a6.55 6.55 0 1 0 13.1 0a6.55 6.55 0 1 0 -13.1 0zM140.26 257.33a6.55 6.55 0 1 0 13.1 0a6.55 6.55 0 1 0 -13.1 0zM149.22 257.33a6.55 6.55 0 1 0 13.1 0a6.55 6.55 0 1 0 -13.1 0zM158.18 257.33a6.55 6.55 0 1 0 13.1 0a6.55 6.55 0 1 0 -13.1 0zM167.14 257.33a6.55 6.55 0 1 0 13.1 0a6.55 6.55 0 1 0 -13.1 0zM176.1 257.33a6.55 6.55 0 1 0 13.1 0a6.55 6.55 0 1 0 -13.1 0zM185.05 257.33a6.55 6.55 0 1 0 13.1 0a6.55 6.55 0 1 0 -13.1 0zM194.01 257.33a6.55 6.55 0 1 0 13.1 0a6.55 6.55 0 1 0 -13.1 0zM202.97 257.33a6.55 6.55 0 1 0 13.1 0a6.55 6.55 0 1 0 -13.1 0zM211.93 257.33a6.55 6.55 0 1 0 13.1 0a6.55 6.55 0 1 0 -13.1 0zM220.89 257.33a6.55 6.55 0 1 0 13.1 0a6.55 6.55 0 1 0 -13.1 0zM229.85 257.33a6.55 6.55 0 1 0 13.1 0a6.55 6.55 0 1 0 -13.1 0zM238.8 257.33a6.55 6.55 0 1 0 13.1 0a6.55 6.55 0 1 0 -13.1 0zM247.76 257.33a6.55 6.55 0 1 0 13.1 0a6.55 6.55 0 1 0 -13.1 0zM256.72 257.33a6.55 6.55 0 1 0 13.1 0a6.55 6.55 0 1 0 -13.1 0zM265.68 257.33a6.55 6.55 0 1 0 13.1 0a6.55 6.55 0 1 0 -13.1 0zM274.64 257.33a6.55 6.55 0 1 0 13.1 0a6.55 6.55 0 1 0 -13.1 0zM283.6 268.81a6.55 6.55 0 1 0 13.1 0a6.55 6.55 0 1 0 -13.1 0zM292.55 267.04a6.55 6.55 0 1 0 13.1 0a6.55 6.55 0 1 0 -13.1 0zM301.51 267.04a6.55 6.55 0 1 0 13.1 0a6.55 6.55 0 1 0 -13.1 0zM310.47 272.04a6.55 6.55 0 1 0 13.1 0a6.55 6.55 0 1 0 -13.1 0zM319.43 270.87a6.55 6.55 0 1 0 13.1 0a6.55 6.55 0 1 0 -13.1 0zM328.39 284.25a6.55 6.55 0 1 0 13.1 0a6.55 6.55 0 1 0 -13.1 0zM337.35 305.74a6.55 6.55 0 1 0 13.1 0a6.55 6.55 0 1 0 -13.1 0zM346.3 306.62a6.55 6.55 0 1 0 13.1 0a6.55 6.55 0 1 0 -13.1 0zM355.26 307.35a6.55 6.55 0 1 0 13.1 0a6.55 6.55 0 1 0 -13.1 0zM364.22 310.74a6.55 6.55 0 1 0 13.1 0a6.55 6.55 0 1 0 -13.1 0zM373.18 318.54a6.55 6.55 0 1 0 13.1 0a6.55 6.55 0 1 0 -13.1 0zM382.14 317.8a6.55 6.55 0 1 0 13.1 0a6.55 6.55 0 1 0 -13.1 0zM391.1 317.8a6.55 6.55 0 1 0 13.1 0a6.55 6.55 0 1 0 -13.1 0zM400.05 318.24a6.55 6.55 0 1 0 13.1 0a6.55 6.55 0 1 0 -13.1 0zM409.01 315.15a6.55 6.55 0 1 0 13.1 0a6.55 6.55 0 1 0 -13.1 0zM417.97 315.74a6.55 6.55 0 1 0 13.1 0a6.55 6.55 0 1 0 -13.1 0zM426.93 314.71a6.55 6.55 0 1 0 13.1 0a6.55 6.55 0 1 0 -13.1 0zM435.89 315.15a6.55 6.55 0 1 0 13.1 0a6.55 6.55 0 1 0 -13.1 0zM444.85 318.54a6.55 6.55 0 1 0 13.1 0a6.55 6.55 0 1 0 -13.1 0zM453.8 325.89a6.55 6.55 0 1 0 13.1 0a6.55 6.55 0 1 0 -13.1 0zM462.76 324.42a6.55 6.55 0 1 0 13.1 0a6.55 6.55 0 1 0 -13.1 0zM471.72 323.24a6.55 6.55 0 1 0 13.1 0a6.55 6.55 0 1 0 -13.1 0zM480.68 322.21a6.55 6.55 0 1 0 13.1 0a6.55 6.55 0 1 0 -13.1 0zM489.64 321.04a6.55 6.55 0 1 0 13.1 0a6.55 6.55 0 1 0 -13.1 0zM498.6 319.86a6.55 6.55 0 1 0 13.1 0a6.55 6.55 0 1 0 -13.1 0zM507.55 318.98a6.55 6.55 0 1 0 13.1 0a6.55 6.55 0 1 0 -13.1 0zM516.51 318.24a6.55 6.55 0 1 0 13.1 0a6.55 6.55 0 1 0 -13.1 0zM525.47 317.36a6.55 6.55 0 1 0 13.1 0a6.55 6.55 0 1 0 -13.1 0zM534.43 316.18a6.55 6.55 0 1 0 13.1 0a6.55 6.55 0 1 0 -13.1 0zM543.39 314.86a6.55 6.55 0 1 0 13.1 0a6.55 6.55 0 1 0 -13.1 0zM552.35 313.39a6.55 6.55 0 1 0 13.1 0a6.55 6.55 0 1 0 -13.1 0zM561.3 311.91a6.55 6.55 0 1 0 13.1 0a6.55 6.55 0 1 0 -13.1 0zM570.26 310.59a6.55 6.55 0 1 0 13.1 0a6.55 6.55 0 1 0 -13.1 0zM579.22 309.41a6.55 6.55 0 1 0 13.1 0a6.55 6.55 0 1 0 -13.1 0zM588.18 308.24a6.55 6.55 0 1 0 13.1 0a6.55 6.55 0 1 0 -13.1 0zM597.14 308.68a6.55 6.55 0 1 0 13.1 0a6.55 6.55 0 1 0 -13.1 0zM606.1 306.91a6.55 6.55 0 1 0 13.1 0a6.55 6.55 0 1 0 -13.1 0zM615.05 305.59a6.55 6.55 0 1 0 13.1 0a6.55 6.55 0 1 0 -13.1 0zM624.01 304.85a6.55 6.55 0 1 0 13.1 0a6.55 6.55 0 1 0 -13.1 0zM632.97 306.18a6.55 6.55 0 1 0 13.1 0a6.55 6.55 0 1 0 -13.1 0zM641.93 314.56a6.55 6.55 0 1 0 13.1 0a6.55 6.55 0 1 0 -13.1 0zM650.89 317.95a6.55 6.55 0 1 0 13.1 0a6.55 6.55 0 1 0 -13.1 0zM659.85 316.77a6.55 6.55 0 1 0 13.1 0a6.55 6.55 0 1 0 -13.1 0zM668.8 334.13a6.55 6.55 0 1 0 13.1 0a6.55 6.55 0 1 0 -13.1 0zM677.76 346.34a6.55 6.55 0 1 0 13.1 0a6.55 6.55 0 1 0 -13.1 0zM686.72 350.61a6.55 6.55 0 1 0 13.1 0a6.55 6.55 0 1 0 -13.1 0zM695.68 353.41a6.55 6.55 0 1 0 13.1 0a6.55 6.55 0 1 0 -13.1 0zM704.64 355.02a6.55 6.55 0 1 0 13.1 0a6.55 6.55 0 1 0 -13.1 0zM713.6 354.73a6.55 6.55 0 1 0 13.1 0a6.55 6.55 0 1 0 -13.1 0zM722.55 359.73a6.55 6.55 0 1 0 13.1 0a6.55 6.55 0 1 0 -13.1 0zM731.51 358.7a6.55 6.55 0 1 0 13.1 0a6.55 6.55 0 1 0 -13.1 0zM740.47 358.26a6.55 6.55 0 1 0 13.1 0a6.55 6.55 0 1 0 -13.1 0zM749.43 358.11a6.55 6.55 0 1 0 13.1 0a6.55 6.55 0 1 0 -13.1 0zM758.39 355.76a6.55 6.55 0 1 0 13.1 0a6.55 6.55 0 1 0 -13.1 0zM767.35 355.76a6.55 6.55 0 1 0 13.1 0a6.55 6.55 0 1 0 -13.1 0zM776.3 361.2a6.55 6.55 0 1 0 13.1 0a6.55 6.55 0 1 0 -13.1 0zM785.26 359.14a6.55 6.55 0 1 0 13.1 0a6.55 6.55 0 1 0 -13.1 0zM794.22 357.38a6.55 6.55 0 1 0 13.1 0a6.55 6.55 0 1 0 -13.1 0zM803.18 356.64a6.55 6.55 0 1 0 13.1 0a6.55 6.55 0 1 0 -13.1 0zM812.14 355.47a6.55 6.55 0 1 0 13.1 0a6.55 6.55 0 1 0 -13.1 0zM821.1 354.44a6.55 6.55 0 1 0 13.1 0a6.55 6.55 0 1 0 -13.1 0zM830.05 353.7a6.55 6.55 0 1 0 13.1 0a6.55 6.55 0 1 0 -13.1 0zM839.01 352.96a6.55 6.55 0 1 0 13.1 0a6.55 6.55 0 1 0 -13.1 0zM847.97 352.96a6.55 6.55 0 1 0 13.1 0a6.55 6.55 0 1 0 -13.1 0zM856.93 352.96a6.55 6.55 0 1 0 13.1 0a6.55 6.55 0 1 0 -13.1 0zM865.89 352.23a6.55 6.55 0 1 0 13.1 0a6.55 6.55 0 1 0 -13.1 0z" fill="#FF0000"/>
</g>
<g aria-label="インドネシア">
<path d="M110.98 432.86 L119.94 432.86 L128.9 432.86 L137.85 432.86 L146.81 432.86 L155.77 432.86 L164.73 432.86 L173.69 432.86 L182.65 432.86 L191.6 432.86 L200.56 432.86 L209.52 432.86 L218.48 432.86 L227.44 432.86 L236.4 432.86 L245.35 432.86 L254.31 432.86 L263.27 432.86 L272.23 432.86 L281.19 432.86 L290.15 432.86 L299.1 432.86 L308.06 432.86 L317.02 432.86 L325.98 432.86 L334.94 432.86 L343.9 432.86 L352.85 432.86 L361.81 432.86 L370.77 432.86 L379.73 432.86 L388.69 432.86 L397.65 432.86 L406.6 432.86 L415.56 432.86 L424.52 432.86 L433.48 432.86 L442.44 432.86 L451.4 432.86 L460.35 432.86 L469.31 432.86 L478.27 432.86 L487.23 432.86 L496.19 432.86 L505.15 432.86 L514.1 432.86 L523.06 432.86 L532.02 432.86 L540.98 432.86 L549.94 432.86 L558.9 432.86 L567.85 432.86 L576.81 432.86 L585.77 432.86 L594.73 432.86 L603.69 432.86 L612.65 432.86 L621.6 432.86 L630.56 432.86 L639.52 432.86 L648.48 432.86 L657.44 432.86 L666.4 432.86 L675.35 432.86 L684.31 432.86 L693.27 432.86 L702.23 432.86 L711.19 432.86 L720.15 432.86 L729.1 432.86 L738.06 432.86 L747.02 432.86 L755.98 432.86 L764.94 432.86 L773.9 432.86 L782.85 432.86 L791.81 432.86 L800.77 432.86 L809.73 432.86 L818.69 452.28 L827.65 430.5 L836.6 424.47 L845.56 422.7 L854.52 421.67 L863.48 419.91 L872.44 420.64" fill="none" stroke="#C00000" stroke-width="2" stroke-linejoin="round"/>
<path d="M104.43 432.86a6.55 6.55 0 1 0 13.1 0a6.55 6.55 0 1 0 -13.1 0zM113.39 432.86a6.55 6.55 0 1 0 13.1 0a6.55 6.55 0 1 0 -13.1 0zM122.35 432.86a6.55 6.55 0 1 0 13.1 0a6.55 6.55 0 1 0 -13.1 0zM131.3 432.86a6.55 6.55 0 1 0 13.1 0a6.55 6.55 0 1 0 -13.1 0zM140.26 432.86a6.55 6.55 0 1 0 13.1 0a6.55 6.55 0 1 0 -13.1 0zM149.22 432.86a6.55 6.55 0 1 0 13.1 0a6.55 6.55 0 1 0 -13.1 0zM158.18 432.86a6.55 6.55 0 1 0 13.1 0a6.55 6.55 0 1 0 -13.1 0zM167.14 432.86a6.55 6.55 0 1 0 13.1 0a6.55 6.55 0 1 0 -13.1 0zM176.1 432.86a6.55 6.55 0 1 0 13.1 0a6.55 6.55 0 1 0 -13.1 0zM185.05 432.86a6.55 6.55 0 1 0 13.1 0a6.55 6.55 0 1 0 -13.1 0zM194.01 432.86a6.55 6.55 0 1 0 13.1 0a6.55 6.55 0 1 0 -13.1 0zM202.97 432.86a6.55 6.55 0 1 0 13.1 0a6.55 6.55 0 1 0 -13.1 0zM211.93 432.86a6.55 6.55 0 1 0 13.1 0a6.55 6.55 0 1 0 -13.1 0zM220.89 432.86a6.55 6.55 0 1 0 13.1 0a6.55 6.55 0 1 0 -13.1 0zM229.85 432.86a6.55 6.55 0 1 0 13.1 0a6.55 6.55 0 1 0 -13.1 0zM238.8 432.86a6.55 6.55 0 1 0 13.1 0a6.55 6.55 0 1 0 -13.1 0zM247.76 432.86a6.55 6.55 0 1 0 13.1 0a6.55 6.55 0 1 0 -13.1 0zM256.72 432.86a6.55 6.55 0 1 0 13.1 0a6.55 6.55 0 1 0 -13.1 0zM265.68 432.86a6.55 6.55 0 1 0 13.1 0a6.55 6.55 0 1 0 -13.1 0zM274.64 432.86a6.55 6.55 0 1 0 13.1 0a6.55 6.55 0 1 0 -13.1 0zM283.6 432.86a6.55 6.55 0 1 0 13.1 0a6.55 6.55 0 1 0 -13.1 0zM292.55 432.86a6.55 6.55 0 1 0 13.1 0a6.55 6.55 0 1 0 -13.1 0zM301.51 432.86a6.55 6.55 0 1 0 13.1 0a6.55 6.55 0 1 0 -13.1 0zM310.47 432.86a6.55 6.55 0 1 0 13.1 0a6.55 6.55 0 1 0 -13.1 0zM319.43 432.86a6.55 6.55 0 1 0 13.1 0a6.55 6.55 0 1 0 -13.1 0zM328.39 432.86a6.55 6.55 0 1 0 13.1 0a6.55 6.55 0 1 0 -13.1 0zM337.35 432.86a6.55 6.55 0 1 0 13.1 0a6.55 6.55 0 1 0 -13.1 0zM346.3 432.86a6.55 6.55 0 1 0 13.1 0a6.55 6.55 0 1 0 -13.1 0zM355.26 432.86a6.55 6.55 0 1 0 13.1 0a6.55 6.55 0 1 0 -13.1 0zM364.22 432.86a6.55 6.55 0 1 0 13.1 0a6.55 6.55 0 1 0 -13.1 0zM373.18 432.86a6.55 6.55 0 1 0 13.1 0a6.55 6.55 0 1 0 -13.1 0zM382.14 432.86a6.55 6.55 0 1 0 13.1 0a6.55 6.55 0 1 0 -13.1 0zM391.1 432.86a6.55 6.55 0 1 0 13.1 0a6.55 6.55 0 1 0 -13.1 0zM400.05 432.86a6.55 6.55 0 1 0 13.1 0a6.55 6.55 0 1 0 -13.1 0zM409.01 432.86a6.55 6.55 0 1 0 13.1 0a6.55 6.55 0 1 0 -13.1 0zM417.97 432.86a6.55 6.55 0 1 0 13.1 0a6.55 6.55 0 1 0 -13.1 0zM426.93 432.86a6.55 6.55 0 1 0 13.1 0a6.55 6.55 0 1 0 -13.1 0zM435.89 432.86a6.55 6.55 0 1 0 13.1 0a6.55 6.55 0 1 0 -13.1 0zM444.85 432.86a6.55 6.55 0 1 0 13.1 0a6.55 6.55 0 1 0 -13.1 0zM453.8 432.86a6.55 6.55 0 1 0 13.1 0a6.55 6.55 0 1 0 -13.1 0zM462.76 432.86a6.55 6.55 0 1 0 13.1 0a6.55 6.55 0 1 0 -13.1 0zM471.72 432.86a6.55 6.55 0 1 0 13.1 0a6.55 6.55 0 1 0 -13.1 0zM480.68 432.86a6.55 6.55 0 1 0 13.1 0a6.55 6.55 0 1 0 -13.1 0zM489.64 432.86a6.55 6.55 0 1 0 13.1 0a6.55 6.55 0 1 0 -13.1 0zM498.6 432.86a6.55 6.55 0 1 0 13.1 0a6.55 6.55 0 1 0 -13.1 0zM507.55 432.86a6.55 6.55 0 1 0 13.1 0a6.55 6.55 0 1 0 -13.1 0zM516.51 432.86a6.55 6.55 0 1 0 13.1 0a6.55 6.55 0 1 0 -13.1 0zM525.47 432.86a6.55 6.55 0 1 0 13.1 0a6.55 6.55 0 1 0 -13.1 0zM534.43 432.86a6.55 6.55 0 1 0 13.1 0a6.55 6.55 0 1 0 -13.1 0zM543.39 432.86a6.55 6.55 0 1 0 13.1 0a6.55 6.55 0 1 0 -13.1 0zM552.35 432.86a6.55 6.55 0 1 0 13.1 0a6.55 6.55 0 1 0 -13.1 0zM561.3 432.86a6.55 6.55 0 1 0 13.1 0a6.55 6.55 0 1 0 -13.1 0zM570.26 432.86a6.55 6.55 0 1 0 13.1 0a6.55 6.55 0 1 0 -13.1 0zM579.22 432.86a6.55 6.55 0 1 0 13.1 0a6.55 6.55 0 1 0 -13.1 0zM588.18 432.86a6.55 6.55 0 1 0 13.1 0a6.55 6.55 0 1 0 -13.1 0zM597.14 432.86a6.55 6.55 0 1 0 13.1 0a6.55 6.55 0 1 0 -13.1 0zM606.1 432.86a6.55 6.55 0 1 0 13.1 0a6.55 6.55 0 1 0 -13.1 0zM615.05 432.86a6.55 6.55 0 1 0 13.1 0a6.55 6.55 0 1 0 -13.1 0zM624.01 432.86a6.55 6.55 0 1 0 13.1 0a6.55 6.55 0 1 0 -13.1 0zM632.97 432.86a6.55 6.55 0 1 0 13.1 0a6.55 6.55 0 1 0 -13.1 0zM641.93 432.86a6.55 6.55 0 1 0 13.1 0a6.55 6.55 0 1 0 -13.1 0zM650.89 432.86a6.55 6.55 0 1 0 13.1 0a6.55 6.55 0 1 0 -13.1 0zM659.85 432.86a6.55 6.55 0 1 0 13.1 0a6.55 6.55 0 1 0 -13.1 0zM668.8 432.86a6.55 6.55 0 1 0 13.1 0a6.55 6.55 0 1 0 -13.1 0zM677.76 432.86a6.55 6.55 0 1 0 13.1 0a6.55 6.55 0 1 0 -13.1 0zM686.72 432.86a6.55 6.55 0 1 0 13.1 0a6.55 6.55 0 1 0 -13.1 0zM695.68 432.86a6.55 6.55 0 1 0 13.1 0a6.55 6.55 0 1 0 -13.1 0zM704.64 432.86a6.55 6.55 0 1 0 13.1 0a6.55 6.55 0 1 0 -13.1 0zM713.6 432.86a6.55 6.55 0 1 0 13.1 0a6.55 6.55 0 1 0 -13.1 0zM722.55 432.86a6.55 6.55 0 1 0 13.1 0a6.55 6.55 0 1 0 -13.1 0zM731.51 432.86a6.55 6.55 0 1 0 13.1 0a6.55 6.55 0 1 0 -13.1 0zM740.47 432.86a6.55 6.55 0 1 0 13.1 0a6.55 6.55 0 1 0 -13.1 0zM749.43 432.86a6.55 6.55 0 1 0 13.1 0a6.55 6.55 0 1 0 -13.1 0zM758.39 432.86a6.55 6.55 0 1 0 13.1 0a6.55 6.55 0 1 0 -13.1 0zM767.35 432.86a6.55 6.55 0 1 0 13.1 0a6.55 6.55 0 1 0 -13.1 0zM776.3 432.86a6.55 6.55 0 1 0 13.1 0a6.55 6.55 0 1 0 -13.1 0zM785.26 432.86a6.55 6.55 0 1 0 13.1 0a6.55 6.55 0 1 0 -13.1 0zM794.22 432.86a6.55 6.55 0 1 0 13.1 0a6.55 6.55 0 1 0 -13.1 0zM803.18 432.86a6.55 6.55 0 1 0 13.1 0a6.55 6.55 0 1 0 -13.1 0zM812.14 452.28a6.55 6.55 0 1 0 13.1 0a6.55 6.55 0 1 0 -13.1 0zM821.1 430.5a6.55 6.55 0 1 0 13.1 0a6.55 6.55 0 1 0 -13.1 0zM830.05 424.47a6.55 6.55 0 1 0 13.1 0a6.55 6.55 0 1 0 -13.1 0zM839.01 422.7a6.55 6.55 0 1 0 13.1 0a6.55 6.55 0 1 0 -13.1 0zM847.97 421.67a6.55 6.55 0 1 0 13.1 0a6.55 6.55 0 1 0 -13.1 0zM856.93 419.91a6.55 6.55 0 1 0 13.1 0a6.55 6.55 0 1 0 -13.1 0zM865.89 420.64a6.55 6.55 0 1 0 13.1 0a6.55 6.55 0 1 0 -13.1 0z" fill="#C00000"/>
</g>
<g aria-label="カンボジア">
<path d="M110.98 529.81 L119.94 529.81 L128.9 529.81 L137.85 529.81 L146.81 529.81 L155.77 529.81 L164.73 529.81 L173.69 529.81 L182.65 529.81 L191.6 529.81 L200.56 529.81 L209.52 529.81 L218.48 529.81 L227.44 529.81 L236.4 529.81 L245.35 529.81 L254.31 529.81 L263.27 529.81 L272.23 494.94 L281.19 494.94 L290.15 493.62 L299.1 488.77 L308.06 489.21 L317.02 487 L325.98 481.26 L334.94 481.41 L343.9 482 L352.85 473.76 L361.81 473.76 L370.77 473.76 L379.73 473.76 L388.69 473.76 L397.65 473.76 L406.6 473.76 L415.56 473.76 L424.52 473.76 L433.48 473.76 L442.44 473.76 L451.4 473.76 L460.35 473.76 L469.31 473.76 L478.27 473.76 L487.23 473.76 L496.19 473.76 L505.15 473.76 L514.1 471.4 L523.06 471.4 L532.02 471.4 L540.98 471.4 L549.94 471.4 L558.9 485.68 L567.85 485.68 L576.81 485.68 L585.77 485.68 L594.73 485.68 L603.69 485.68 L612.65 485.68 L621.6 485.68 L630.56 485.68 L639.52 485.68 L648.48 485.68 L657.44 485.68 L666.4 485.68 L675.35 485.68 L684.31 485.68 L693.27 485.68 L702.23 485.68 L711.19 485.68 L720.15 485.68 L729.1 485.68 L738.06 485.68 L747.02 485.68 L755.98 479.94 L764.94 479.94 L773.9 479.94 L782.85 479.94 L791.81 468.46 L800.77 468.46 L809.73 468.46 L818.69 468.46 L827.65 468.46 L836.6 468.46 L845.56 468.46 L854.52 468.46 L863.48 468.46 L872.44 466.4" fill="none" stroke="#000000" stroke-width="2" stroke-linejoin="round"/>
<path d="M104.43 529.81a6.55 6.55 0 1 0 13.1 0a6.55 6.55 0 1 0 -13.1 0zM113.39 529.81a6.55 6.55 0 1 0 13.1 0a6.55 6.55 0 1 0 -13.1 0zM122.35 529.81a6.55 6.55 0 1 0 13.1 0a6.55 6.55 0 1 0 -13.1 0zM131.3 529.81a6.55 6.55 0 1 0 13.1 0a6.55 6.55 0 1 0 -13.1 0zM140.26 529.81a6.55 6.55 0 1 0 13.1 0a6.55 6.55 0 1 0 -13.1 0zM149.22 529.81a6.55 6.55 0 1 0 13.1 0a6.55 6.55 0 1 0 -13.1 0zM158.18 529.81a6.55 6.55 0 1 0 13.1 0a6.55 6.55 0 1 0 -13.1 0zM167.14 529.81a6.55 6.55 0 1 0 13.1 0a6.55 6.55 0 1 0 -13.1 0zM176.1 529.81a6.55 6.55 0 1 0 13.1 0a6.55 6.55 0 1 0 -13.1 0zM185.05 529.81a6.55 6.55 0 1 0 13.1 0a6.55 6.55 0 1 0 -13.1 0zM194.01 529.81a6.55 6.55 0 1 0 13.1 0a6.55 6.55 0 1 0 -13.1 0zM202.97 529.81a6.55 6.55 0 1 0 13.1 0a6.55 6.55 0 1 0 -13.1 0zM211.93 529.81a6.55 6.55 0 1 0 13.1 0a6.55 6.55 0 1 0 -13.1 0zM220.89 529.81a6.55 6.55 0 1 0 13.1 0a6.55 6.55 0 1 0 -13.1 0zM229.85 529.81a6.55 6.55 0 1 0 13.1 0a6.55 6.55 0 1 0 -13.1 0zM238.8 529.81a6.55 6.55 0 1 0 13.1 0a6.55 6.55 0 1 0 -13.1 0zM247.76 529.81a6.55 6.55 0 1 0 13.1 0a6.55 6.55 0 1 0 -13.1 0zM256.72 529.81a6.55 6.55 0 1 0 13.1 0a6.55 6.55 0 1 0 -13.1 0zM265.68 494.94a6.55 6.55 0 1 0 13.1 0a6.55 6.55 0 1 0 -13.1 0zM274.64 494.94a6.55 6.55 0 1 0 13.1 0a6.55 6.55 0 1 0 -13.1 0zM283.6 493.62a6.55 6.55 0 1 0 13.1 0a6.55 6.55 0 1 0 -13.1 0zM292.55 488.77a6.55 6.55 0 1 0 13.1 0a6.55 6.55 0 1 0 -13.1 0zM301.51 489.21a6.55 6.55 0 1 0 13.1 0a6.55 6.55 0 1 0 -13.1 0zM310.47 487a6.55 6.55 0 1 0 13.1 0a6.55 6.55 0 1 0 -13.1 0zM319.43 481.26a6.55 6.55 0 1 0 13.1 0a6.55 6.55 0 1 0 -13.1 0zM328.39 481.41a6.55 6.55 0 1 0 13.1 0a6.55 6.55 0 1 0 -13.1 0zM337.35 482a6.55 6.55 0 1 0 13.1 0a6.55 6.55 0 1 0 -13.1 0zM346.3 473.76a6.55 6.55 0 1 0 13.1 0a6.55 6.55 0 1 0 -13.1 0zM355.26 473.76a6.55 6.55 0 1 0 13.1 0a6.55 6.55 0 1 0 -13.1 0zM364.22 473.76a6.55 6.55 0 1 0 13.1 0a6.55 6.55 0 1 0 -13.1 0zM373.18 473.76a6.55 6.55 0 1 0 13.1 0a6.55 6.55 0 1 0 -13.1 0zM382.14 473.76a6.55 6.55 0 1 0 13.1 0a6.55 6.55 0 1 0 -13.1 0zM391.1 473.76a6.55 6.55 0 1 0 13.1 0a6.55 6.55 0 1 0 -13.1 0zM400.05 473.76a6.55 6.55 0 1 0 13.1 0a6.55 6.55 0 1 0 -13.1 0zM409.01 473.76a6.55 6.55 0 1 0 13.1 0a6.55 6.55 0 1 0 -13.1 0zM417.97 473.76a6.55 6.55 0 1 0 13.1 0a6.55 6.55 0 1 0 -13.1 0zM426.93 473.76a6.55 6.55 0 1 0 13.1 0a6.55 6.55 0 1 0 -13.1 0zM435.89 473.76a6.55 6.55 0 1 0 13.1 0a6.55 6.55 0 1 0 -13.1 0zM444.85 473.76a6.55 6.55 0 1 0 13.1 0a6.55 6.55 0 1 0 -13.1 0zM453.8 473.76a6.55 6.55 0 1 0 13.1 0a6.55 6.55 0 1 0 -13.1 0zM462.76 473.76a6.55 6.55 0 1 0 13.1 0a6.55 6.55 0 1 0 -13.1 0zM471.72 473.76a6.55 6.55 0 1 0 13.1 0a6.55 6.55 0 1 0 -13.1 0zM480.68 473.76a6.55 6.55 0 1 0 13.1 0a6.55 6.55 0 1 0 -13.1 0zM489.64 473.76a6.55 6.55 0 1 0 13.1 0a6.55 6.55 0 1 0 -13.1 0zM498.6 473.76a6.55 6.55 0 1 0 13.1 0a6.55 6.55 0 1 0 -13.1 0zM507.55 471.4a6.55 6.55 0 1 0 13.1 0a6.55 6.55 0 1 0 -13.1 0zM516.51 471.4a6.55 6.55 0 1 0 13.1 0a6.55 6.55 0 1 0 -13.1 0zM525.47 471.4a6.55 6.55 0 1 0 13.1 0a6.55 6.55 0 1 0 -13.1 0zM534.43 471.4a6.55 6.55 0 1 0 13.1 0a6.55 6.55 0 1 0 -13.1 0zM543.39 471.4a6.55 6.55 0 1 0 13.1 0a6.55 6.55 0 1 0 -13.1 0zM552.35 485.68a6.55 6.55 0 1 0 13.1 0a6.55 6.55 0 1 0 -13.1 0zM561.3 485.68a6.55 6.55 0 1 0 13.1 0a6.55 6.55 0 1 0 -13.1 0zM570.26 485.68a6.55 6.55 0 1 0 13.1 0a6.55 6.55 0 1 0 -13.1 0zM579.22 485.68a6.55 6.55 0 1 0 13.1 0a6.55 6.55 0 1 0 -13.1 0zM588.18 485.68a6.55 6.55 0 1 0 13.1 0a6.55 6.55 0 1 0 -13.1 0zM597.14 485.68a6.55 6.55 0 1 0 13.1 0a6.55 6.55 0 1 0 -13.1 0zM606.1 485.68a6.55 6.55 0 1 0 13.1 0a6.55 6.55 0 1 0 -13.1 0zM615.05 485.68a6.55 6.55 0 1 0 13.1 0a6.55 6.55 0 1 0 -13.1 0zM624.01 485.68a6.55 6.55 0 1 0 13.1 0a6.55 6.55 0 1 0 -13.1 0zM632.97 485.68a6.55 6.55 0 1 0 13.1 0a6.55 6.55 0 1 0 -13.1 0zM641.93 485.68a6.55 6.55 0 1 0 13.1 0a6.55 6.55 0 1 0 -13.1 0zM650.89 485.68a6.55 6.55 0 1 0 13.1 0a6.55 6.55 0 1 0 -13.1 0zM659.85 485.68a6.55 6.55 0 1 0 13.1 0a6.55 6.55 0 1 0 -13.1 0zM668.8 485.68a6.55 6.55 0 1 0 13.1 0a6.55 6.55 0 1 0 -13.1 0zM677.76 485.68a6.55 6.55 0 1 0 13.1 0a6.55 6.55 0 1 0 -13.1 0zM686.72 485.68a6.55 6.55 0 1 0 13.1 0a6.55 6.55 0 1 0 -13.1 0zM695.68 485.68a6.55 6.55 0 1 0 13.1 0a6.55 6.55 0 1 0 -13.1 0zM704.64 485.68a6.55 6.55 0 1 0 13.1 0a6.55 6.55 0 1 0 -13.1 0zM713.6 485.68a6.55 6.55 0 1 0 13.1 0a6.55 6.55 0 1 0 -13.1 0zM722.55 485.68a6.55 6.55 0 1 0 13.1 0a6.55 6.55 0 1 0 -13.1 0zM731.51 485.68a6.55 6.55 0 1 0 13.1 0a6.55 6.55 0 1 0 -13.1 0zM740.47 485.68a6.55 6.55 0 1 0 13.1 0a6.55 6.55 0 1 0 -13.1 0zM749.43 479.94a6.55 6.55 0 1 0 13.1 0a6.55 6.55 0 1 0 -13.1 0zM758.39 479.94a6.55 6.55 0 1 0 13.1 0a6.55 6.55 0 1 0 -13.1 0zM767.35 479.94a6.55 6.55 0 1 0 13.1 0a6.55 6.55 0 1 0 -13.1 0zM776.3 479.94a6.55 6.55 0 1 0 13.1 0a6.55 6.55 0 1 0 -13.1 0zM785.26 468.46a6.55 6.55 0 1 0 13.1 0a6.55 6.55 0 1 0 -13.1 0zM794.22 468.46a6.55 6.55 0 1 0 13.1 0a6.55 6.55 0 1 0 -13.1 0zM803.18 468.46a6.55 6.55 0 1 0 13.1 0a6.55 6.55 0 1 0 -13.1 0zM812.14 468.46a6.55 6.55 0 1 0 13.1 0a6.55 6.55 0 1 0 -13.1 0zM821.1 468.46a6.55 6.55 0 1 0 13.1 0a6.55 6.55 0 1 0 -13.1 0zM830.05 468.46a6.55 6.55 0 1 0 13.1 0a6.55 6.55 0 1 0 -13.1 0zM839.01 468.46a6.55 6.55 0 1 0 13.1 0a6.55 6.55 0 1 0 -13.1 0zM847.97 468.46a6.55 6.55 0 1 0 13.1 0a6.55 6.55 0 1 0 -13.1 0zM856.93 468.46a6.55 6.55 0 1 0 13.1 0a6.55 6.55 0 1 0 -13.1 0zM865.89 466.4a6.55 6.55 0 1 0 13.1 0a6.55 6.55 0 1 0 -13.1 0z" fill="#000000"/>
</g>
<g aria-label="マレーシア">
<path d="M110.98 491.27 L119.94 491.27 L128.9 491.27 L137.85 491.27 L146.81 491.27 L155.77 491.27 L164.73 491.27 L173.69 491.27 L182.65 491.27 L191.6 491.27 L200.56 491.27 L209.52 491.27 L218.48 491.27 L227.44 491.27 L236.4 491.27 L245.35 491.27 L254.31 491.27 L263.27 491.27 L272.23 491.27 L281.19 491.27 L290.15 491.27 L299.1 491.27 L308.06 491.27 L317.02 491.27 L325.98 491.27 L334.94 491.27 L343.9 491.27 L352.85 491.27 L361.81 491.27 L370.77 491.27 L379.73 491.27 L388.69 491.27 L397.65 491.27 L406.6 491.27 L415.56 491.27 L424.52 491.27 L433.48 491.27 L442.44 491.27 L451.4 491.27 L460.35 491.27 L469.31 491.27 L478.27 491.27 L487.23 491.27 L496.19 491.27 L505.15 491.27 L514.1 491.27 L523.06 491.27 L532.02 491.27 L540.98 491.27 L549.94 491.27 L558.9 491.27 L567.85 491.27 L576.81 491.27 L585.77 491.27 L594.73 491.27 L603.69 491.27 L612.65 491.27 L621.6 491.27 L630.56 491.27 L639.52 491.27 L648.48 491.27 L657.44 491.27 L666.4 491.27 L675.35 491.27 L684.31 491.27 L693.27 491.27 L702.23 491.27 L711.19 491.27 L720.15 491.27 L729.1 491.27 L738.06 491.27 L747.02 491.27 L755.98 491.27 L764.94 491.27 L773.9 491.27 L782.85 491.27 L791.81 491.27 L800.77 491.27 L809.73 491.27 L818.69 491.27 L827.65 491.27 L836.6 491.27 L845.56 491.27 L854.52 491.27 L863.48 486.12 L872.44 484.35" fill="none" stroke="#92D050" stroke-width="2" stroke-linejoin="round"/>
<path d="M104.43 491.27a6.55 6.55 0 1 0 13.1 0a6.55 6.55 0 1 0 -13.1 0zM113.39 491.27a6.55 6.55 0 1 0 13.1 0a6.55 6.55 0 1 0 -13.1 0zM122.35 491.27a6.55 6.55 0 1 0 13.1 0a6.55 6.55 0 1 0 -13.1 0zM131.3 491.27a6.55 6.55 0 1 0 13.1 0a6.55 6.55 0 1 0 -13.1 0zM140.26 491.27a6.55 6.55 0 1 0 13.1 0a6.55 6.55 0 1 0 -13.1 0zM149.22 491.27a6.55 6.55 0 1 0 13.1 0a6.55 6.55 0 1 0 -13.1 0zM158.18 491.27a6.55 6.55 0 1 0 13.1 0a6.55 6.55 0 1 0 -13.1 0zM167.14 491.27a6.55 6.55 0 1 0 13.1 0a6.55 6.55 0 1 0 -13.1 0zM176.1 491.27a6.55 6.55 0 1 0 13.1 0a6.55 6.55 0 1 0 -13.1 0zM185.05 491.27a6.55 6.55 0 1 0 13.1 0a6.55 6.55 0 1 0 -13.1 0zM194.01 491.27a6.55 6.55 0 1 0 13.1 0a6.55 6.55 0 1 0 -13.1 0zM202.97 491.27a6.55 6.55 0 1 0 13.1 0a6.55 6.55 0 1 0 -13.1 0zM211.93 491.27a6.55 6.55 0 1 0 13.1 0a6.55 6.55 0 1 0 -13.1 0zM220.89 491.27a6.55 6.55 0 1 0 13.1 0a6.55 6.55 0 1 0 -13.1 0zM229.85 491.27a6.55 6.55 0 1 0 13.1 0a6.55 6.55 0 1 0 -13.1 0zM238.8 491.27a6.55 6.55 0 1 0 13.1 0a6.55 6.55 0 1 0 -13.1 0zM247.76 491.27a6.55 6.55 0 1 0 13.1 0a6.55 6.55 0 1 0 -13.1 0zM256.72 491.27a6.55 6.55 0 1 0 13.1 0a6.55 6.55 0 1 0 -13.1 0zM265.68 491.27a6.55 6.55 0 1 0 13.1 0a6.55 6.55 0 1 0 -13.1 0zM274.64 491.27a6.55 6.55 0 1 0 13.1 0a6.55 6.55 0 1 0 -13.1 0zM283.6 491.27a6.55 6.55 0 1 0 13.1 0a6.55 6.55 0 1 0 -13.1 0zM292.55 491.27a6.55 6.55 0 1 0 13.1 0a6.55 6.55 0 1 0 -13.1 0zM301.51 491.27a6.55 6.55 0 1 0 13.1 0a6.55 6.55 0 1 0 -13.1 0zM310.47 491.27a6.55 6.55 0 1 0 13.1 0a6.55 6.55 0 1 0 -13.1 0zM319.43 491.27a6.55 6.55 0 1 0 13.1 0a6.55 6.55 0 1 0 -13.1 0zM328.39 491.27a6.55 6.55 0 1 0 13.1 0a6.55 6.55 0 1 0 -13.1 0zM337.35 491.27a6.55 6.55 0 1 0 13.1 0a6.55 6.55 0 1 0 -13.1 0zM346.3 491.27a6.55 6.55 0 1 0 13.1 0a6.55 6.55 0 1 0 -13.1 0zM355.26 491.27a6.55 6.55 0 1 0 13.1 0a6.55 6.55 0 1 0 -13.1 0zM364.22 491.27a6.55 6.55 0 1 0 13.1 0a6.55 6.55 0 1 0 -13.1 0zM373.18 491.27a6.55 6.55 0 1 0 13.1 0a6.55 6.55 0 1 0 -13.1 0zM382.14 491.27a6.55 6.55 0 1 0 13.1 0a6.55 6.55 0 1 0 -13.1 0zM391.1 491.27a6.55 6.55 0 1 0 13.1 0a6.55 6.55 0 1 0 -13.1 0zM400.05 491.27a6.55 6.55 0 1 0 13.1 0a6.55 6.55 0 1 0 -13.1 0zM409.01 491.27a6.55 6.55 0 1 0 13.1 0a6.55 6.55 0 1 0 -13.1 0zM417.97 491.27a6.55 6.55 0 1 0 13.1 0a6.55 6.55 0 1 0 -13.1 0zM426.93 491.27a6.55 6.55 0 1 0 13.1 0a6.55 6.55 0 1 0 -13.1 0zM435.89 491.27a6.55 6.55 0 1 0 13.1 0a6.55 6.55 0 1 0 -13.1 0zM444.85 491.27a6.55 6.55 0 1 0 13.1 0a6.55 6.55 0 1 0 -13.1 0zM453.8 491.27a6.55 6.55 0 1 0 13.1 0a6.55 6.55 0 1 0 -13.1 0zM462.76 491.27a6.55 6.55 0 1 0 13.1 0a6.55 6.55 0 1 0 -13.1 0zM471.72 491.27a6.55 6.55 0 1 0 13.1 0a6.55 6.55 0 1 0 -13.1 0zM480.68 491.27a6.55 6.55 0 1 0 13.1 0a6.55 6.55 0 1 0 -13.1 0zM489.64 491.27a6.55 6.55 0 1 0 13.1 0a6.55 6.55 0 1 0 -13.1 0zM498.6 491.27a6.55 6.55 0 1 0 13.1 0a6.55 6.55 0 1 0 -13.1 0zM507.55 491.27a6.55 6.55 0 1 0 13.1 0a6.55 6.55 0 1 0 -13.1 0zM516.51 491.27a6.55 6.55 0 1 0 13.1 0a6.55 6.55 0 1 0 -13.1 0zM525.47 491.27a6.55 6.55 0 1 0 13.1 0a6.55 6.55 0 1 0 -13.1 0zM534.43 491.27a6.55 6.55 0 1 0 13.1 0a6.55 6.55 0 1 0 -13.1 0zM543.39 491.27a6.55 6.55 0 1 0 13.1 0a6.55 6.55 0 1 0 -13.1 0zM552.35 491.27a6.55 6.55 0 1 0 13.1 0a6.55 6.55 0 1 0 -13.1 0zM561.3 491.27a6.55 6.55 0 1 0 13.1 0a6.55 6.55 0 1 0 -13.1 0zM570.26 491.27a6.55 6.55 0 1 0 13.1 0a6.55 6.55 0 1 0 -13.1 0zM579.22 491.27a6.55 6.55 0 1 0 13.1 0a6.55 6.55 0 1 0 -13.1 0zM588.18 491.27a6.55 6.55 0 1 0 13.1 0a6.55 6.55 0 1 0 -13.1 0zM597.14 491.27a6.55 6.55 0 1 0 13.1 0a6.55 6.55 0 1 0 -13.1 0zM606.1 491.27a6.55 6.55 0 1 0 13.1 0a6.55 6.55 0 1 0 -13.1 0zM615.05 491.27a6.55 6.55 0 1 0 13.1 0a6.55 6.55 0 1 0 -13.1 0zM624.01 491.27a6.55 6.55 0 1 0 13.1 0a6.55 6.55 0 1 0 -13.1 0zM632.97 491.27a6.55 6.55 0 1 0 13.1 0a6.55 6.55 0 1 0 -13.1 0zM641.93 491.27a6.55 6.55 0 1 0 13.1 0a6.55 6.55 0 1 0 -13.1 0zM650.89 491.27a6.55 6.55 0 1 0 13.1 0a6.55 6.55 0 1 0 -13.1 0zM659.85 491.27a6.55 6.55 0 1 0 13.1 0a6.55 6.55 0 1 0 -13.1 0zM668.8 491.27a6.55 6.55 0 1 0 13.1 0a6.55 6.55 0 1 0 -13.1 0zM677.76 491.27a6.55 6.55 0 1 0 13.1 0a6.55 6.55 0 1 0 -13.1 0zM686.72 491.27a6.55 6.55 0 1 0 13.1 0a6.55 6.55 0 1 0 -13.1 0zM695.68 491.27a6.55 6.55 0 1 0 13.1 0a6.55 6.55 0 1 0 -13.1 0zM704.64 491.27a6.55 6.55 0 1 0 13.1 0a6.55 6.55 0 1 0 -13.1 0zM713.6 491.27a6.55 6.55 0 1 0 13.1 0a6.55 6.55 0 1 0 -13.1 0zM722.55 491.27a6.55 6.55 0 1 0 13.1 0a6.55 6.55 0 1 0 -13.1 0zM731.51 491.27a6.55 6.55 0 1 0 13.1 0a6.55 6.55 0 1 0 -13.1 0zM740.47 491.27a6.55 6.55 0 1 0 13.1 0a6.55 6.55 0 1 0 -13.1 0zM749.43 491.27a6.55 6.55 0 1 0 13.1 0a6.55 6.55 0 1 0 -13.1 0zM758.39 491.27a6.55 6.55 0 1 0 13.1 0a6.55 6.55 0 1 0 -13.1 0zM767.35 491.27a6.55 6.55 0 1 0 13.1 0a6.55 6.55 0 1 0 -13.1 0zM776.3 491.27a6.55 6.55 0 1 0 13.1 0a6.55 6.55 0 1 0 -13.1 0zM785.26 491.27a6.55 6.55 0 1 0 13.1 0a6.55 6.55 0 1 0 -13.1 0zM794.22 491.27a6.55 6.55 0 1 0 13.1 0a6.55 6.55 0 1 0 -13.1 0zM803.18 491.27a6.55 6.55 0 1 0 13.1 0a6.55 6.55 0 1 0 -13.1 0zM812.14 491.27a6.55 6.55 0 1 0 13.1 0a6.55 6.55 0 1 0 -13.1 0zM821.1 491.27a6.55 6.55 0 1 0 13.1 0a6.55 6.55 0 1 0 -13.1 0zM830.05 491.27a6.55 6.55 0 1 0 13.1 0a6.55 6.55 0 1 0 -13.1 0zM839.01 491.27a6.55 6.55 0 1 0 13.1 0a6.55 6.55 0 1 0 -13.1 0zM847.97 491.27a6.55 6.55 0 1 0 13.1 0a6.55 6.55 0 1 0 -13.1 0zM856.93 486.12a6.55 6.55 0 1 0 13.1 0a6.55 6.55 0 1 0 -13.1 0zM865.89 484.35a6.55 6.55 0 1 0 13.1 0a6.55 6.55 0 1 0 -13.1 0z" fill="#92D050"/>
</g>
<g aria-label="ミャンマー">
<path d="M110.98 537.76 L119.94 537.76 L128.9 537.76 L137.85 537.76 L146.81 537.76 L155.77 537.76 L164.73 537.76 L173.69 537.76 L182.65 537.76 L191.6 537.76 L200.56 537.76 L209.52 537.76 L218.48 537.76 L227.44 537.76 L236.4 537.76 L245.35 537.76 L254.31 537.76 L263.27 537.76 L272.23 537.76 L281.19 537.76 L290.15 537.76 L299.1 537.76 L308.06 537.76 L317.02 537.76 L325.98 537.76 L334.94 537.76 L343.9 537.76 L352.85 537.76 L361.81 537.76 L370.77 537.76 L379.73 537.76 L388.69 537.76 L397.65 537.76 L406.6 537.76 L415.56 537.76 L424.52 537.76 L433.48 537.76 L442.44 537.76 L451.4 537.76 M558.9 537.76 L567.85 537.76 L576.81 537.76 L585.77 537.76 L594.73 537.76 L603.69 537.76 L612.65 537.76 L621.6 537.76 L630.56 537.76 L639.52 537.76 L648.48 537.76 L657.44 537.76 L666.4 537.76 L675.35 537.76 L684.31 537.76 L693.27 537.76 L702.23 537.76 L711.19 537.76 L720.15 537.76 L729.1 537.76 L738.06 537.76 L747.02 537.76 L755.98 537.76 L764.94 537.76 L773.9 537.76" fill="none" stroke="#00B050" stroke-width="2" stroke-linejoin="round"/>
<path d="M104.43 537.76a6.55 6.55 0 1 0 13.1 0a6.55 6.55 0 1 0 -13.1 0zM113.39 537.76a6.55 6.55 0 1 0 13.1 0a6.55 6.55 0 1 0 -13.1 0zM122.35 537.76a6.55 6.55 0 1 0 13.1 0a6.55 6.55 0 1 0 -13.1 0zM131.3 537.76a6.55 6.55 0 1 0 13.1 0a6.55 6.55 0 1 0 -13.1 0zM140.26 537.76a6.55 6.55 0 1 0 13.1 0a6.55 6.55 0 1 0 -13.1 0zM149.22 537.76a6.55 6.55 0 1 0 13.1 0a6.55 6.55 0 1 0 -13.1 0zM158.18 537.76a6.55 6.55 0 1 0 13.1 0a6.55 6.55 0 1 0 -13.1 0zM167.14 537.76a6.55 6.55 0 1 0 13.1 0a6.55 6.55 0 1 0 -13.1 0zM176.1 537.76a6.55 6.55 0 1 0 13.1 0a6.55 6.55 0 1 0 -13.1 0zM185.05 537.76a6.55 6.55 0 1 0 13.1 0a6.55 6.55 0 1 0 -13.1 0zM194.01 537.76a6.55 6.55 0 1 0 13.1 0a6.55 6.55 0 1 0 -13.1 0zM202.97 537.76a6.55 6.55 0 1 0 13.1 0a6.55 6.55 0 1 0 -13.1 0zM211.93 537.76a6.55 6.55 0 1 0 13.1 0a6.55 6.55 0 1 0 -13.1 0zM220.89 537.76a6.55 6.55 0 1 0 13.1 0a6.55 6.55 0 1 0 -13.1 0zM229.85 537.76a6.55 6.55 0 1 0 13.1 0a6.55 6.55 0 1 0 -13.1 0zM238.8 537.76a6.55 6.55 0 1 0 13.1 0a6.55 6.55 0 1 0 -13.1 0zM247.76 537.76a6.55 6.55 0 1 0 13.1 0a6.55 6.55 0 1 0 -13.1 0zM256.72 537.76a6.55 6.55 0 1 0 13.1 0a6.55 6.55 0 1 0 -13.1 0zM265.68 537.76a6.55 6.55 0 1 0 13.1 0a6.55 6.55 0 1 0 -13.1 0zM274.64 537.76a6.55 6.55 0 1 0 13.1 0a6.55 6.55 0 1 0 -13.1 0zM283.6 537.76a6.55 6.55 0 1 0 13.1 0a6.55 6.55 0 1 0 -13.1 0zM292.55 537.76a6.55 6.55 0 1 0 13.1 0a6.55 6.55 0 1 0 -13.1 0zM301.51 537.76a6.55 6.55 0 1 0 13.1 0a6.55 6.55 0 1 0 -13.1 0zM310.47 537.76a6.55 6.55 0 1 0 13.1 0a6.55 6.55 0 1 0 -13.1 0zM319.43 537.76a6.55 6.55 0 1 0 13.1 0a6.55 6.55 0 1 0 -13.1 0zM328.39 537.76a6.55 6.55 0 1 0 13.1 0a6.55 6.55 0 1 0 -13.1 0zM337.35 537.76a6.55 6.55 0 1 0 13.1 0a6.55 6.55 0 1 0 -13.1 0zM346.3 537.76a6.55 6.55 0 1 0 13.1 0a6.55 6.55 0 1 0 -13.1 0zM355.26 537.76a6.55 6.55 0 1 0 13.1 0a6.55 6.55 0 1 0 -13.1 0zM364.22 537.76a6.55 6.55 0 1 0 13.1 0a6.55 6.55 0 1 0 -13.1 0zM373.18 537.76a6.55 6.55 0 1 0 13.1 0a6.55 6.55 0 1 0 -13.1 0zM382.14 537.76a6.55 6.55 0 1 0 13.1 0a6.55 6.55 0 1 0 -13.1 0zM391.1 537.76a6.55 6.55 0 1 0 13.1 0a6.55 6.55 0 1 0 -13.1 0zM400.05 537.76a6.55 6.55 0 1 0 13.1 0a6.55 6.55 0 1 0 -13.1 0zM409.01 537.76a6.55 6.55 0 1 0 13.1 0a6.55 6.55 0 1 0 -13.1 0zM417.97 537.76a6.55 6.55 0 1 0 13.1 0a6.55 6.55 0 1 0 -13.1 0zM426.93 537.76a6.55 6.55 0 1 0 13.1 0a6.55 6.55 0 1 0 -13.1 0zM435.89 537.76a6.55 6.55 0 1 0 13.1 0a6.55 6.55 0 1 0 -13.1 0zM444.85 537.76a6.55 6.55 0 1 0 13.1 0a6.55 6.55 0 1 0 -13.1 0zM552.35 537.76a6.55 6.55 0 1 0 13.1 0a6.55 6.55 0 1 0 -13.1 0zM561.3 537.76a6.55 6.55 0 1 0 13.1 0a6.55 6.55 0 1 0 -13.1 0zM570.26 537.76a6.55 6.55 0 1 0 13.1 0a6.55 6.55 0 1 0 -13.1 0zM579.22 537.76a6.55 6.55 0 1 0 13.1 0a6.55 6.55 0 1 0 -13.1 0zM588.18 537.76a6.55 6.55 0 1 0 13.1 0a6.55 6.55 0 1 0 -13.1 0zM597.14 537.76a6.55 6.55 0 1 0 13.1 0a6.55 6.55 0 1 0 -13.1 0zM606.1 537.76a6.55 6.55 0 1 0 13.1 0a6.55 6.55 0 1 0 -13.1 0zM615.05 537.76a6.55 6.55 0 1 0 13.1 0a6.55 6.55 0 1 0 -13.1 0zM624.01 537.76a6.55 6.55 0 1 0 13.1 0a6.55 6.55 0 1 0 -13.1 0zM632.97 537.76a6.55 6.55 0 1 0 13.1 0a6.55 6.55 0 1 0 -13.1 0zM641.93 537.76a6.55 6.55 0 1 0 13.1 0a6.55 6.55 0 1 0 -13.1 0zM650.89 537.76a6.55 6.55 0 1 0 13.1 0a6.55 6.55 0 1 0 -13.1 0zM659.85 537.76a6.55 6.55 0 1 0 13.1 0a6.55 6.55 0 1 0 -13.1 0zM668.8 537.76a6.55 6.55 0 1 0 13.1 0a6.55 6.55 0 1 0 -13.1 0zM677.76 537.76a6.55 6.55 0 1 0 13.1 0a6.55 6.55 0 1 0 -13.1 0zM686.72 537.76a6.55 6.55 0 1 0 13.1 0a6.55 6.55 0 1 0 -13.1 0zM695.68 537.76a6.55 6.55 0 1 0 13.1 0a6.55 6.55 0 1 0 -13.1 0zM704.64 537.76a6.55 6.55 0 1 0 13.1 0a6.55 6.55 0 1 0 -13.1 0zM713.6 537.76a6.55 6.55 0 1 0 13.1 0a6.55 6.55 0 1 0 -13.1 0zM722.55 537.76a6.55 6.55 0 1 0 13.1 0a6.55 6.55 0 1 0 -13.1 0zM731.51 537.76a6.55 6.55 0 1 0 13.1 0a6.55 6.55 0 1 0 -13.1 0zM740.47 537.76a6.55 6.55 0 1 0 13.1 0a6.55 6.55 0 1 0 -13.1 0zM749.43 537.76a6.55 6.55 0 1 0 13.1 0a6.55 6.55 0 1 0 -13.1 0zM758.39 537.76a6.55 6.55 0 1 0 13.1 0a6.55 6.55 0 1 0 -13.1 0zM767.35 537.76a6.55 6.55 0 1 0 13.1 0a6.55 6.55 0 1 0 -13.1 0z" fill="#00B050"/>
</g>
<g aria-label="ブルネイ">
<path d="M110.98 541.73 L119.94 541.73 L128.9 541.73 L137.85 541.73 L146.81 541.73 L155.77 541.73 L164.73 541.73 L173.69 541.73 L182.65 541.73 L191.6 541.73 L200.56 541.73 L209.52 541.73 L218.48 541.73 L227.44 541.73 L236.4 541.73 L245.35 541.73 L254.31 541.73 L263.27 541.73 L272.23 541.73 L281.19 541.73 L290.15 541.73 L299.1 541.73 L308.06 541.73 L317.02 541.73 L325.98 541.73 L334.94 541.73 L343.9 541.73 L352.85 541.73 L361.81 541.73 L370.77 541.73 L379.73 541.73 L388.69 541.73 L397.65 541.73 L406.6 541.73 L415.56 541.73 L424.52 541.73 L433.48 541.73 L442.44 541.73 L451.4 541.73 L460.35 541.73 L469.31 541.73 L478.27 541.73 L487.23 541.73 L496.19 541.73 L505.15 541.73 L514.1 541.73 M540.98 541.73 L549.94 541.73 L558.9 541.73 L567.85 541.73 L576.81 541.73 L585.77 541.73 L594.73 541.73 L603.69 541.73 L612.65 541.73 L621.6 541.73 L630.56 541.73 L639.52 541.73 L648.48 541.73 L657.44 541.73 L666.4 541.73 L675.35 541.73 L684.31 541.73 L693.27 541.73 L702.23 541.73 L711.19 541.73 L720.15 541.73 L729.1 541.73 L738.06 541.73 L747.02 541.73 L755.98 541.73 L764.94 541.73 L773.9 541.73 L782.85 541.73 L791.81 541.73 L800.77 541.73 L809.73 541.73 L818.69 541.73 L827.65 541.73 L836.6 541.73 L845.56 541.73 L854.52 541.73 L863.48 541.73 L872.44 541.73" fill="none" stroke="#FF9900" stroke-width="2" stroke-linejoin="round"/>
<path d="M104.43 541.73a6.55 6.55 0 1 0 13.1 0a6.55 6.55 0 1 0 -13.1 0zM113.39 541.73a6.55 6.55 0 1 0 13.1 0a6.55 6.55 0 1 0 -13.1 0zM122.35 541.73a6.55 6.55 0 1 0 13.1 0a6.55 6.55 0 1 0 -13.1 0zM131.3 541.73a6.55 6.55 0 1 0 13.1 0a6.55 6.55 0 1 0 -13.1 0zM140.26 541.73a6.55 6.55 0 1 0 13.1 0a6.55 6.55 0 1 0 -13.1 0zM149.22 541.73a6.55 6.55 0 1 0 13.1 0a6.55 6.55 0 1 0 -13.1 0zM158.18 541.73a6.55 6.55 0 1 0 13.1 0a6.55 6.55 0 1 0 -13.1 0zM167.14 541.73a6.55 6.55 0 1 0 13.1 0a6.55 6.55 0 1 0 -13.1 0zM176.1 541.73a6.55 6.55 0 1 0 13.1 0a6.55 6.55 0 1 0 -13.1 0zM185.05 541.73a6.55 6.55 0 1 0 13.1 0a6.55 6.55 0 1 0 -13.1 0zM194.01 541.73a6.55 6.55 0 1 0 13.1 0a6.55 6.55 0 1 0 -13.1 0zM202.97 541.73a6.55 6.55 0 1 0 13.1 0a6.55 6.55 0 1 0 -13.1 0zM211.93 541.73a6.55 6.55 0 1 0 13.1 0a6.55 6.55 0 1 0 -13.1 0zM220.89 541.73a6.55 6.55 0 1 0 13.1 0a6.55 6.55 0 1 0 -13.1 0zM229.85 541.73a6.55 6.55 0 1 0 13.1 0a6.55 6.55 0 1 0 -13.1 0zM238.8 541.73a6.55 6.55 0 1 0 13.1 0a6.55 6.55 0 1 0 -13.1 0zM247.76 541.73a6.55 6.55 0 1 0 13.1 0a6.55 6.55 0 1 0 -13.1 0zM256.72 541.73a6.55 6.55 0 1 0 13.1 0a6.55 6.55 0 1 0 -13.1 0zM265.68 541.73a6.55 6.55 0 1 0 13.1 0a6.55 6.55 0 1 0 -13.1 0zM274.64 541.73a6.55 6.55 0 1 0 13.1 0a6.55 6.55 0 1 0 -13.1 0zM283.6 541.73a6.55 6.55 0 1 0 13.1 0a6.55 6.55 0 1 0 -13.1 0zM292.55 541.73a6.55 6.55 0 1 0 13.1 0a6.55 6.55 0 1 0 -13.1 0zM301.51 541.73a6.55 6.55 0 1 0 13.1 0a6.55 6.55 0 1 0 -13.1 0zM310.47 541.73a6.55 6.55 0 1 0 13.1 0a6.55 6.55 0 1 0 -13.1 0zM319.43 541.73a6.55 6.55 0 1 0 13.1 0a6.55 6.55 0 1 0 -13.1 0zM328.39 541.73a6.55 6.55 0 1 0 13.1 0a6.55 6.55 0 1 0 -13.1 0zM337.35 541.73a6.55 6.55 0 1 0 13.1 0a6.55 6.55 0 1 0 -13.1 0zM346.3 541.73a6.55 6.55 0 1 0 13.1 0a6.55 6.55 0 1 0 -13.1 0zM355.26 541.73a6.55 6.55 0 1 0 13.1 0a6.55 6.55 0 1 0 -13.1 0zM364.22 541.73a6.55 6.55 0 1 0 13.1 0a6.55 6.55 0 1 0 -13.1 0zM373.18 541.73a6.55 6.55 0 1 0 13.1 0a6.55 6.55 0 1 0 -13.1 0zM382.14 541.73a6.55 6.55 0 1 0 13.1 0a6.55 6.55 0 1 0 -13.1 0zM391.1 541.73a6.55 6.55 0 1 0 13.1 0a6.55 6.55 0 1 0 -13.1 0zM400.05 541.73a6.55 6.55 0 1 0 13.1 0a6.55 6.55 0 1 0 -13.1 0zM409.01 541.73a6.55 6.55 0 1 0 13.1 0a6.55 6.55 0 1 0 -13.1 0zM417.97 541.73a6.55 6.55 0 1 0 13.1 0a6.55 6.55 0 1 0 -13.1 0zM426.93 541.73a6.55 6.55 0 1 0 13.1 0a6.55 6.55 0 1 0 -13.1 0zM435.89 541.73a6.55 6.55 0 1 0 13.1 0a6.55 6.55 0 1 0 -13.1 0zM444.85 541.73a6.55 6.55 0 1 0 13.1 0a6.55 6.55 0 1 0 -13.1 0zM453.8 541.73a6.55 6.55 0 1 0 13.1 0a6.55 6.55 0 1 0 -13.1 0zM462.76 541.73a6.55 6.55 0 1 0 13.1 0a6.55 6.55 0 1 0 -13.1 0zM471.72 541.73a6.55 6.55 0 1 0 13.1 0a6.55 6.55 0 1 0 -13.1 0zM480.68 541.73a6.55 6.55 0 1 0 13.1 0a6.55 6.55 0 1 0 -13.1 0zM489.64 541.73a6.55 6.55 0 1 0 13.1 0a6.55 6.55 0 1 0 -13.1 0zM498.6 541.73a6.55 6.55 0 1 0 13.1 0a6.55 6.55 0 1 0 -13.1 0zM507.55 541.73a6.55 6.55 0 1 0 13.1 0a6.55 6.55 0 1 0 -13.1 0zM534.43 541.73a6.55 6.55 0 1 0 13.1 0a6.55 6.55 0 1 0 -13.1 0zM543.39 541.73a6.55 6.55 0 1 0 13.1 0a6.55 6.55 0 1 0 -13.1 0zM552.35 541.73a6.55 6.55 0 1 0 13.1 0a6.55 6.55 0 1 0 -13.1 0zM561.3 541.73a6.55 6.55 0 1 0 13.1 0a6.55 6.55 0 1 0 -13.1 0zM570.26 541.73a6.55 6.55 0 1 0 13.1 0a6.55 6.55 0 1 0 -13.1 0zM579.22 541.73a6.55 6.55 0 1 0 13.1 0a6.55 6.55 0 1 0 -13.1 0zM588.18 541.73a6.55 6.55 0 1 0 13.1 0a6.55 6.55 0 1 0 -13.1 0zM597.14 541.73a6.55 6.55 0 1 0 13.1 0a6.55 6.55 0 1 0 -13.1 0zM606.1 541.73a6.55 6.55 0 1 0 13.1 0a6.55 6.55 0 1 0 -13.1 0zM615.05 541.73a6.55 6.55 0 1 0 13.1 0a6.55 6.55 0 1 0 -13.1 0zM624.01 541.73a6.55 6.55 0 1 0 13.1 0a6.55 6.55 0 1 0 -13.1 0zM632.97 541.73a6.55 6.55 0 1 0 13.1 0a6.55 6.55 0 1 0 -13.1 0zM641.93 541.73a6.55 6.55 0 1 0 13.1 0a6.55 6.55 0 1 0 -13.1 0zM650.89 541.73a6.55 6.55 0 1 0 13.1 0a6.55 6.55 0 1 0 -13.1 0zM659.85 541.73a6.55 6.55 0 1 0 13.1 0a6.55 6.55 0 1 0 -13.1 0zM668.8 541.73a6.55 6.55 0 1 0 13.1 0a6.55 6.55 0 1 0 -13.1 0zM677.76 541.73a6.55 6.55 0 1 0 13.1 0a6.55 6.55 0 1 0 -13.1 0zM686.72 541.73a6.55 6.55 0 1 0 13.1 0a6.55 6.55 0 1 0 -13.1 0zM695.68 541.73a6.55 6.55 0 1 0 13.1 0a6.55 6.55 0 1 0 -13.1 0zM704.64 541.73a6.55 6.55 0 1 0 13.1 0a6.55 6.55 0 1 0 -13.1 0zM713.6 541.73a6.55 6.55 0 1 0 13.1 0a6.55 6.55 0 1 0 -13.1 0zM722.55 541.73a6.55 6.55 0 1 0 13.1 0a6.55 6.55 0 1 0 -13.1 0zM731.51 541.73a6.55 6.55 0 1 0 13.1 0a6.55 6.55 0 1 0 -13.1 0zM740.47 541.73a6.55 6.55 0 1 0 13.1 0a6.55 6.55 0 1 0 -13.1 0zM749.43 541.73a6.55 6.55 0 1 0 13.1 0a6.55 6.55 0 1 0 -13.1 0zM758.39 541.73a6.55 6.55 0 1 0 13.1 0a6.55 6.55 0 1 0 -13.1 0zM767.35 541.73a6.55 6.55 0 1 0 13.1 0a6.55 6.55 0 1 0 -13.1 0zM776.3 541.73a6.55 6.55 0 1 0 13.1 0a6.55 6.55 0 1 0 -13.1 0zM785.26 541.73a6.55 6.55 0 1 0 13.1 0a6.55 6.55 0 1 0 -13.1 0zM794.22 541.73a6.55 6.55 0 1 0 13.1 0a6.55 6.55 0 1 0 -13.1 0zM803.18 541.73a6.55 6.55 0 1 0 13.1 0a6.55 6.55 0 1 0 -13.1 0zM812.14 541.73a6.55 6.55 0 1 0 13.1 0a6.55 6.55 0 1 0 -13.1 0zM821.1 541.73a6.55 6.55 0 1 0 13.1 0a6.55 6.55 0 1 0 -13.1 0zM830.05 541.73a6.55 6.55 0 1 0 13.1 0a6.55 6.55 0 1 0 -13.1 0zM839.01 541.73a6.55 6.55 0 1 0 13.1 0a6.55 6.55 0 1 0 -13.1 0zM847.97 541.73a6.55 6.55 0 1 0 13.1 0a6.55 6.55 0 1 0 -13.1 0zM856.93 541.73a6.55 6.55 0 1 0 13.1 0a6.55 6.55 0 1 0 -13.1 0zM865.89 541.73a6.55 6.55 0 1 0 13.1 0a6.55 6.55 0 1 0 -13.1 0z" fill="#FF9900"/>
</g>
</g>
<g id="ylabels">
<text x="65" y="553.7" font-size="16" textLength="25.5" lengthAdjust="spacingAndGlyphs">0㌧</text>
<text x="55" y="480.1" font-size="16" textLength="35.5" lengthAdjust="spacingAndGlyphs">50㌧</text>
<text x="45" y="406.6" font-size="16" textLength="45.5" lengthAdjust="spacingAndGlyphs">100㌧</text>
<text x="45" y="333" font-size="16" textLength="45.5" lengthAdjust="spacingAndGlyphs">150㌧</text>
<text x="45" y="259.4" font-size="16" textLength="45.5" lengthAdjust="spacingAndGlyphs">200㌧</text>
<text x="45" y="185.9" font-size="16" textLength="45.5" lengthAdjust="spacingAndGlyphs">250㌧</text>
<text x="45" y="112.3" font-size="16" textLength="45.5" lengthAdjust="spacingAndGlyphs">300㌧</text>
</g>
<g id="xlabels">
<text x="83" y="579.7" font-size="16" textLength="56" lengthAdjust="spacingAndGlyphs">2019年</text>
<text x="190.5" y="579.7" font-size="16" textLength="56" lengthAdjust="spacingAndGlyphs">2020年</text>
<text x="298" y="579.7" font-size="16" textLength="56" lengthAdjust="spacingAndGlyphs">2021年</text>
<text x="405.5" y="579.7" font-size="16" textLength="56" lengthAdjust="spacingAndGlyphs">2022年</text>
<text x="513" y="579.7" font-size="16" textLength="56" lengthAdjust="spacingAndGlyphs">2023年</text>
<text x="620.5" y="579.7" font-size="16" textLength="56" lengthAdjust="spacingAndGlyphs">2024年</text>
<text x="728" y="579.7" font-size="16" textLength="56" lengthAdjust="spacingAndGlyphs">2025年</text>
<text x="835.5" y="579.7" font-size="16" textLength="56" lengthAdjust="spacingAndGlyphs">2026年</text>
</g>
<g id="flags">
<rect x="500.8" y="419" width="85.8" height="22" fill="#fff" fill-opacity="0.1"/>
<g mask="url(#m_th)"><use href="#f_th" transform="translate(497.3 230.3) scale(1 -1)"/></g>
<g mask="url(#m_ph)"><use href="#f_ph" transform="translate(898.4 442) scale(1 -1)"/></g>
<g mask="url(#m_kh)"><use href="#f_kh" transform="translate(898.7 557.8) scale(1 -1)"/></g>
<g mask="url(#m_my)"><use href="#f_my" transform="translate(987.7 556.7) scale(1 -1)"/></g>
<g mask="url(#m_mm)"><use href="#f_mm" transform="translate(898.2 625.4) scale(1 -1)"/></g>
<g mask="url(#m_bn)"><use href="#f_bn" transform="translate(987.8 621.35) scale(1 -1)"/></g>
<use href="#f_th" transform="translate(497.3 100.6)"/>
<use href="#f_id" transform="translate(500.8 354.2)"/>
<use href="#f_sg" transform="translate(898.4 225.3)"/>
<line x1="902" x2="980.2" y1="290.4" y2="290.4" stroke="#b4b4b4" stroke-width="0.9"/>
<use href="#f_ph" transform="translate(898.4 313.9)"/>
<use href="#f_kh" transform="translate(898.7 424.1)"/>
<use href="#f_my" transform="translate(987.7 424)"/>
<use href="#f_mm" transform="translate(898.2 497.1)"/>
<use href="#f_bn" transform="translate(987.8 495.35)"/>
</g>
<g id="legend">
<rect x="145.5" y="590.5" width="814" height="43" fill="#fff" stroke="#5a5a5a" stroke-width="1"/>
<line x1="160.9" x2="188.1" y1="612.3" y2="612.3" stroke="#0066CC" stroke-width="2"/>
<circle cx="174.5" cy="612.3" r="5.4" fill="#0066CC"/>
<text x="189" y="617" font-size="16" textLength="23" lengthAdjust="spacingAndGlyphs">タイ</text>
<line x1="227" x2="254.2" y1="612.3" y2="612.3" stroke="#00B0F0" stroke-width="2"/>
<circle cx="240.6" cy="612.3" r="5.4" fill="#00B0F0"/>
<text x="256" y="617" font-size="16" textLength="75" lengthAdjust="spacingAndGlyphs">シンガポール</text>
<line x1="346.8" x2="374" y1="612.3" y2="612.3" stroke="#FF0000" stroke-width="2"/>
<circle cx="360.4" cy="612.3" r="5.4" fill="#FF0000"/>
<text x="376.3" y="617" font-size="16" textLength="52" lengthAdjust="spacingAndGlyphs">フィリピン</text>
<line x1="442.7" x2="469.9" y1="612.3" y2="612.3" stroke="#C00000" stroke-width="2"/>
<circle cx="456.3" cy="612.3" r="5.4" fill="#C00000"/>
<text x="472.7" y="617" font-size="16" textLength="72" lengthAdjust="spacingAndGlyphs">インドネシア</text>
<line x1="559.1" x2="586.3" y1="612.3" y2="612.3" stroke="#000000" stroke-width="2"/>
<circle cx="572.7" cy="612.3" r="5.4" fill="#000000"/>
<text x="589" y="617" font-size="16" textLength="61.5" lengthAdjust="spacingAndGlyphs">カンボジア</text>
<line x1="664.3" x2="691.5" y1="612.3" y2="612.3" stroke="#92D050" stroke-width="2"/>
<circle cx="677.9" cy="612.3" r="5.4" fill="#92D050"/>
<text x="693.8" y="617" font-size="16" textLength="60.5" lengthAdjust="spacingAndGlyphs">マレーシア</text>
<line x1="769.4" x2="796.6" y1="612.3" y2="612.3" stroke="#00B050" stroke-width="2"/>
<circle cx="783" cy="612.3" r="5.4" fill="#00B050"/>
<text x="799" y="617" font-size="16" textLength="57" lengthAdjust="spacingAndGlyphs">ミャンマー</text>
<line x1="870.4" x2="897.6" y1="612.3" y2="612.3" stroke="#FF9900" stroke-width="2"/>
<circle cx="884" cy="612.3" r="5.4" fill="#FF9900"/>
<text x="899.5" y="617" font-size="16" textLength="49" lengthAdjust="spacingAndGlyphs">ブルネイ</text>
</g>
<text x="4" y="638.5" font-size="16" textLength="131" lengthAdjust="spacingAndGlyphs">※2026年2月時点</text>
<text x="4" y="665" font-size="16" textLength="173" lengthAdjust="spacingAndGlyphs">※小数点以下は四捨五入</text>
<text x="783" y="662.3" font-size="14.9" textLength="284" lengthAdjust="spacingAndGlyphs">（WGCの資料を基に豊トラスティ証券作成）</text>
<rect x="0" y="667.2" width="1071.5" height="3.6" fill="#002378"/>
</svg>
</body></html>
